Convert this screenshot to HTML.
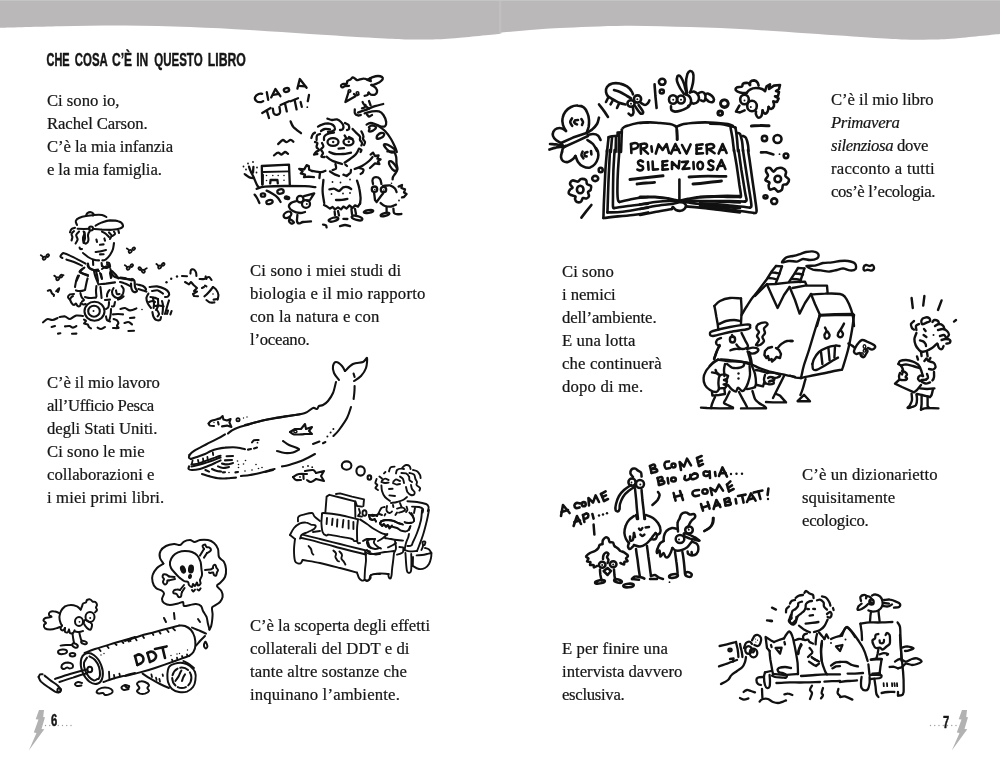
<!DOCTYPE html>
<html lang="it"><head><meta charset="utf-8"><title>Che cosa c’è in questo libro</title>
<style>
html,body{margin:0;padding:0;background:#fff;}
body{width:1000px;height:762px;position:relative;overflow:hidden;font-family:"Liberation Serif",serif;color:#1d1d1b;}
.t{position:absolute;white-space:nowrap;will-change:transform;font-family:"Liberation Serif",serif;font-size:16.7px;line-height:23.1px;color:#161616;-webkit-text-stroke:0.22px #161616;}
.t div{height:23.1px;}
svg{position:absolute;overflow:visible;will-change:transform;}
.ink{fill:none;stroke:#111;stroke-linecap:round;stroke-linejoin:round;}
</style></head><body>
<svg width="1000" height="762" viewBox="0 0 1000 762" style="left:0;top:0">
<path d="M0.0,27.8 C10.0,27.5 39.2,26.6 60.0,26.2 C80.8,25.8 103.3,25.4 125.0,25.5 C146.7,25.6 169.2,26.2 190.0,27.0 C210.8,27.8 230.0,28.8 250.0,30.0 C270.0,31.2 289.2,32.7 310.0,34.0 C330.8,35.3 359.2,37.1 375.0,38.0 C390.8,38.9 395.8,39.2 405.0,39.4 C414.2,39.6 421.7,39.6 430.0,39.4 C438.3,39.2 443.3,39.2 455.0,38.2 C466.7,37.2 492.5,34.5 500.0,33.7 L500,0 L0,0 Z" fill="#bab8b9"/>
<path d="M500.0,32.6 C505.0,32.2 520.0,30.8 530.0,30.0 C540.0,29.2 544.2,28.7 560.0,28.0 C575.8,27.3 603.3,25.9 625.0,25.7 C646.7,25.5 669.2,26.4 690.0,27.0 C710.8,27.6 730.0,28.5 750.0,29.6 C770.0,30.7 789.2,32.2 810.0,33.6 C830.8,35.0 859.2,37.0 875.0,38.0 C890.8,39.0 895.8,39.2 905.0,39.5 C914.2,39.8 921.7,39.7 930.0,39.5 C938.3,39.3 943.3,39.3 955.0,38.4 C966.7,37.5 992.5,34.7 1000.0,34.0 L1000,0 L500,0 Z" fill="#bab8b9"/>
<rect x="499" y="0" width="2.4" height="33.5" fill="#c1bfc0"/>
<rect x="0" y="0" width="1000" height="1" fill="#c6c5c5"/>
<polygon points="39,710 44,710 43.2,717 45,717.2 41.5,729 44.3,729.2 28.8,750.5 36.5,733 33.8,732.5 38.5,719.5 35.7,719.2" fill="#b3b2b2"/>
<polygon points="962.0,710.0 967.0,710.0 966.2,717.0 968.0,717.2 964.5,729.0 967.3,729.2 951.8,750.5 959.5,733.0 956.8,732.5 961.5,719.5 958.7,719.2" fill="#b3b2b2"/>
<g fill="#9c9c9c"><circle cx="45.50" cy="725.5" r="0.7"/><circle cx="49.75" cy="725.5" r="0.7"/><circle cx="54.00" cy="725.5" r="0.7"/><circle cx="58.25" cy="725.5" r="0.7"/><circle cx="62.50" cy="725.5" r="0.7"/><circle cx="66.75" cy="725.5" r="0.7"/><circle cx="71.00" cy="725.5" r="0.7"/><circle cx="930.50" cy="725.5" r="0.7"/><circle cx="934.75" cy="725.5" r="0.7"/><circle cx="939.00" cy="725.5" r="0.7"/><circle cx="943.25" cy="725.5" r="0.7"/><circle cx="947.50" cy="725.5" r="0.7"/><circle cx="951.75" cy="725.5" r="0.7"/><circle cx="956.00" cy="725.5" r="0.7"/></g>
<g font-family="Liberation Sans, sans-serif" font-weight="bold" fill="#161616" stroke="#161616" stroke-linejoin="round">
<text x="46.55" y="66.3" font-size="18.9" stroke-width="0.6" textLength="23.05" lengthAdjust="spacingAndGlyphs">CHE</text><text x="74.80" y="66.3" font-size="18.9" stroke-width="0.45" textLength="32.90" lengthAdjust="spacingAndGlyphs">COSA</text><text x="112.00" y="66.3" font-size="18.9" stroke-width="0.45" textLength="20.10" lengthAdjust="spacingAndGlyphs">C’È</text><text x="136.20" y="66.3" font-size="18.9" stroke-width="0.45" textLength="12.10" lengthAdjust="spacingAndGlyphs">IN</text><text x="154.25" y="66.3" font-size="18.9" stroke-width="0.45" textLength="48.35" lengthAdjust="spacingAndGlyphs">QUESTO</text><text x="207.80" y="66.3" font-size="18.9" stroke-width="0.45" textLength="38.05" lengthAdjust="spacingAndGlyphs">LIBRO</text>
<text transform="translate(51,726.3) scale(0.72,1)" font-size="15.6" stroke-width="0.5">6</text>
<text transform="translate(943,728) scale(0.72,1)" font-size="15.6" stroke-width="0.5">7</text>
</g>
</svg>
<div class="t" style="left:47.0px;top:88.81px"><div style="letter-spacing:-0.027px">Ci sono io,</div><div style="letter-spacing:-0.104px">Rachel Carson.</div><div style="letter-spacing:-0.075px">C’è la mia infanzia</div><div style="letter-spacing:-0.112px">e la mia famiglia.</div></div>
<div class="t" style="left:250.0px;top:258.81px"><div style="letter-spacing:0.146px">Ci sono i miei studi di</div><div style="letter-spacing:0.190px">biologia e il mio rapporto</div><div style="letter-spacing:0.183px">con la natura e con</div><div style="letter-spacing:-0.236px">l’oceano.</div></div>
<div class="t" style="left:47.0px;top:371.41px"><div style="letter-spacing:-0.099px">C’è il mio lavoro</div><div style="letter-spacing:-0.317px">all’Ufficio Pesca</div><div style="letter-spacing:-0.028px">degli Stati Uniti.</div><div style="letter-spacing:0.059px">Ci sono le mie</div><div style="letter-spacing:0.029px">collaborazioni e</div><div style="letter-spacing:0.129px">i miei primi libri.</div></div>
<div class="t" style="left:250.0px;top:614.11px"><div style="letter-spacing:-0.046px">C’è la scoperta degli effetti</div><div style="letter-spacing:0.055px">collaterali del DDT e di</div><div style="letter-spacing:0.113px">tante altre sostanze che</div><div style="letter-spacing:0.169px">inquinano l’ambiente.</div></div>
<div class="t" style="left:831.0px;top:88.01px"><div style="letter-spacing:-0.048px">C’è il mio libro</div><div style="letter-spacing:-0.331px"><i>Primavera</i></div><div style="letter-spacing:-0.365px"><i>silenziosa</i> dove</div><div style="letter-spacing:0.244px">racconto a tutti</div><div style="letter-spacing:-0.369px">cos’è l’ecologia.</div></div>
<div class="t" style="left:562.0px;top:260.11px"><div style="letter-spacing:0.062px">Ci sono</div><div style="letter-spacing:-0.077px">i nemici</div><div style="letter-spacing:-0.102px">dell’ambiente.</div><div style="letter-spacing:0.109px">E una lotta</div><div style="letter-spacing:0.145px">che continuerà</div><div style="letter-spacing:0.185px">dopo di me.</div></div>
<div class="t" style="left:801.6px;top:462.81px"><div style="letter-spacing:0.117px">C’è un dizionarietto</div><div style="letter-spacing:0.126px">squisitamente</div><div style="letter-spacing:-0.265px">ecologico.</div></div>
<div class="t" style="left:561.6px;top:637.21px"><div style="letter-spacing:0.109px">E per finire una</div><div style="letter-spacing:0.021px">intervista davvero</div><div style="letter-spacing:-0.294px">esclusiva.</div></div>
<!-- 10_girl.svg -->
<svg width="200" height="152" viewBox="0 0 1000 760" style="left:225px;top:75px"><g class="ink" stroke="#141414" stroke-width="11.5">
<path d="M186,94C183,94 174,92 168,95C162,98 152,106 150,112C148,118 153,127 158,131C162,135 169,136 175,136C181,136 188,132 191,131"/>
<path d="M209,86 L216,124"/>
<path d="M231,112 L252,70 L277,106"/>
<path d="M241,99 L269,94"/>
<ellipse cx="307.5" cy="75.0" rx="13.5" ry="9.5" transform="rotate(-10 307.5 75.0)"/>
<path d="M362,68 L374,20 L408,64"/>
<path d="M368,54 L401,57"/>
<path d="M186,190 L228,165"/>
<path d="M209,178 L220,215"/>
<path d="M239,168C240,172 241,187 244,192C248,198 255,200 260,199C265,198 273,194 275,188C277,181 273,164 272,159"/>
<path d="M278,150 L320,131"/>
<path d="M300,142 L309,182"/>
<path d="M328,131 L365,116"/>
<path d="M348,125 L358,172"/>
<path d="M378,135 L384,159"/>
<path d="M420,100 L414,131"/>
<circle cx="411.5" cy="161.0" r="4.5" fill="#141414" stroke="none"/>
<path d="M328,232C330,237 334,250 342,260C351,270 374,286 380,291"/>
<path d="M266,345C270,342 282,326 289,325C296,324 301,336 308,336C314,336 322,324 328,324C333,324 340,332 342,334"/>
<path d="M620,54C617,54 606,55 600,56C594,57 589,63 586,62C583,62 580,57 580,54C580,51 583,47 588,45C592,43 603,46 608,44C612,41 609,34 612,30C616,26 623,25 628,22C632,20 634,13 638,12C641,12 646,15 650,18C654,20 656,25 660,26C664,27 668,24 674,22C680,21 688,17 695,18C702,18 711,23 714,24"/>
<path d="M714,24C718,22 726,16 735,12C744,9 757,5 765,5C773,5 781,7 785,10C789,13 790,18 788,22C785,27 777,33 770,38C763,42 751,45 745,48C739,50 735,50 732,50"/>
<path d="M712,25 L726,16 L729,31Z"/>
<path d="M732,50C736,52 749,59 754,65C759,71 761,80 760,85C759,90 755,95 750,98C745,100 735,99 730,98C725,96 720,89 718,88"/>
<path d="M718,88C717,90 716,97 712,100C709,103 700,103 698,104"/>
<path d="M618,85 L602,135 L650,108"/>
<ellipse cx="622.5" cy="80.0" rx="6.5" ry="6.5" stroke-width="8"/>
<ellipse cx="662.5" cy="90.0" rx="6.5" ry="6.5" stroke-width="8"/>
<path d="M645,95C647,96 651,102 655,102C659,103 665,98 668,98"/>
<path d="M688,135C689,138 692,145 698,150C703,155 716,165 720,168"/>
<path d="M720,130 L728,152"/>
<path d="M685,166C687,165 695,165 698,162C700,160 702,151 702,149"/>
<path d="M649,172C649,176 647,188 650,192C653,198 660,201 665,202C670,204 677,200 679,200"/>
<path d="M665,188C671,186 686,181 700,176C714,171 735,161 750,156C765,151 784,147 791,145"/>
<path d="M698,192C704,191 723,184 735,182C747,181 760,180 770,182C780,185 786,191 792,200C798,209 805,226 806,235C807,244 804,252 800,256C796,260 788,259 780,258C772,256 759,248 750,245C741,242 735,240 728,240C720,240 711,246 708,248"/>
<path d="M710,198C712,199 716,207 720,208C724,208 732,201 735,200"/>
<path d="M720,260C722,258 730,252 736,252C742,253 754,257 755,261C756,265 746,274 740,278C734,281 723,284 720,282C717,281 723,271 723,268C723,264 718,262 720,260Z"/>
<path d="M760,250C767,255 788,268 800,280C812,292 822,307 830,320C838,333 845,349 850,360C855,371 858,381 859,385"/>
<path d="M780,290C786,289 795,291 796,295C797,299 791,309 785,312C779,316 764,319 760,318C756,316 759,307 762,302C766,298 774,291 780,290Z"/>
<path d="M795,348C797,345 811,348 820,352C829,357 848,368 850,374C852,380 842,388 835,388C828,387 814,377 808,370C801,363 793,350 795,348Z"/>
<path d="M512,218C516,219 527,224 535,225C543,226 552,221 560,222C568,224 575,230 580,235C585,240 591,249 592,255C594,261 590,269 588,272C585,276 577,275 575,275"/>
<path d="M465,258C468,256 477,250 485,248C493,245 506,242 515,242C524,243 534,245 540,250C546,255 551,265 550,270C549,275 541,280 535,282C529,285 518,285 515,285"/>
<path d="M480,280C483,278 492,271 500,270C508,269 521,272 525,272"/>
<path d="M600,240C603,242 614,245 618,250C621,255 621,266 620,270C619,274 612,274 610,275"/>
<path d="M432,315C433,312 435,302 438,298C440,293 448,289 450,288"/>
<path d="M458,325C458,321 457,308 460,302C463,298 472,296 475,295"/>
<path d="M495,325C495,322 493,310 498,305C502,300 512,295 520,292C528,290 541,288 545,288"/>
<path d="M450,335C452,336 461,336 462,340C464,344 456,354 458,360C459,366 470,371 470,375C470,379 459,381 455,385C451,389 444,396 445,398C446,399 460,395 462,395"/>
<path d="M485,340C486,343 493,352 492,358C492,363 480,367 480,372C480,378 490,384 490,390C490,396 481,404 482,408C484,411 495,410 498,410"/>
<path d="M638,270C640,273 649,281 655,288C661,294 672,301 675,308C678,314 673,320 675,325C677,330 684,335 685,340C686,345 683,350 682,352"/>
<path d="M682,282C684,286 691,299 692,305C694,311 689,315 690,320C691,325 699,330 700,335C701,340 696,348 695,350"/>
<path d="M675,370C676,371 682,372 682,375C683,378 678,383 678,385"/>
<ellipse cx="540.0" cy="335.0" rx="27.5" ry="19.0"/>
<circle cx="541.0" cy="335.0" r="6.0" fill="#141414" stroke="none"/>
<ellipse cx="617.5" cy="334.0" rx="25.0" ry="17.5"/>
<circle cx="619.0" cy="334.0" r="6.0" fill="#141414" stroke="none"/>
<path d="M598,302 L608,318"/>
<path d="M620,310 L638,320"/>
<path d="M568,368 L595,366"/>
<path d="M522,385C527,387 539,393 550,395C561,397 577,396 590,395C603,394 623,389 630,388"/>
<path d="M508,408C512,411 522,421 535,428C548,434 577,442 585,445"/>
<path d="M598,438C602,435 615,427 625,420C635,413 648,404 655,395C662,386 668,372 670,368"/>
<path d="M245,402C248,400 259,388 265,388C271,387 277,398 282,398C288,397 295,386 300,385C305,384 312,393 315,394"/>
<path d="M186,548 L184,455 L320,448 L324,550"/>
<path d="M192,485 L320,482" stroke-width="9"/>
<path d="M189,500 L188,548"/>
<circle cx="207.5" cy="502.5" r="4.0" fill="#141414" stroke="none"/>
<circle cx="239.0" cy="502.5" r="4.0" fill="#141414" stroke="none"/>
<circle cx="266.0" cy="502.5" r="4.0" fill="#141414" stroke="none"/>
<circle cx="295.0" cy="502.5" r="4.0" fill="#141414" stroke="none"/>
<circle cx="207.5" cy="527.5" r="4.0" fill="#141414" stroke="none"/>
<circle cx="295.0" cy="526.0" r="4.0" fill="#141414" stroke="none"/>
<path d="M226,542 L228,525 L262,524 L264,542"/>
<path d="M120,458C121,461 123,470 128,480C132,490 140,503 145,515C150,527 156,542 160,550C164,558 168,559 169,561"/>
<path d="M102,498C106,500 116,510 122,512C129,515 139,515 142,515"/>
<path d="M142,460 L140,488"/>
<circle cx="92.5" cy="457.5" r="4.5" fill="#141414" stroke="none"/>
<circle cx="115.0" cy="442.5" r="4.5" fill="#141414" stroke="none"/>
<circle cx="140.0" cy="435.0" r="4.5" fill="#141414" stroke="none"/>
<circle cx="105.0" cy="472.5" r="4.5" fill="#141414" stroke="none"/>
<circle cx="97.5" cy="495.0" r="4.5" fill="#141414" stroke="none"/>
<circle cx="160.0" cy="462.5" r="4.5" fill="#141414" stroke="none"/>
<circle cx="157.5" cy="487.5" r="4.5" fill="#141414" stroke="none"/>
<path d="M158,569C165,567 176,560 200,558C224,556 267,555 300,555C333,555 375,555 400,556C425,557 444,560 452,561"/>
<path d="M148,598C150,600 156,608 160,615C164,622 170,636 172,640"/>
<ellipse cx="190.0" cy="600.0" rx="11.0" ry="8.5"/>
<ellipse cx="222.5" cy="635.0" rx="16.0" ry="10.0" transform="rotate(-15 222.5 635.0)"/>
<path d="M208,578C213,580 230,589 240,595C250,601 259,608 265,615C271,622 275,632 278,635"/>
<ellipse cx="277.5" cy="582.5" rx="16.0" ry="11.0" transform="rotate(-10 277.5 582.5)"/>
<ellipse cx="310.0" cy="614.0" rx="11.0" ry="6.0" fill="#141414" transform="rotate(10 310.0 614.0)"/>
<path d="M435,480 L421,474 L419,455 L408,451 L396,472 L371,469 L388,482 L379,492 L400,498 L395,511 L418,508 L445,511"/>
<path d="M435,480C442,481 469,486 480,486C491,486 499,480 502,479"/>
<path d="M475,488 L472,515"/>
<ellipse cx="376.0" cy="621.0" rx="16.5" ry="16.5"/>
<ellipse cx="405.0" cy="645.0" rx="20.0" ry="19.0"/>
<circle cx="409.0" cy="645.0" r="5.0" fill="#141414" stroke="none"/>
<path d="M395,606 L446,592 L425,625 L411,629"/>
<path d="M358,630C353,632 336,635 330,640C324,645 318,653 320,660C322,667 331,675 340,680C349,685 365,689 375,690C385,691 396,686 400,685"/>
<ellipse cx="312.5" cy="699.0" rx="21.0" ry="14.0" transform="rotate(-30 312.5 699.0)"/>
<path d="M325,715C324,718 319,725 320,730C321,735 326,741 330,742C334,744 345,740 345,738C345,735 335,727 332,725"/>
<path d="M362,700C362,705 359,723 360,730C361,737 365,742 370,742C375,743 380,737 390,735C400,733 423,733 430,732"/>
<path d="M492,525C492,534 487,561 488,580C488,599 495,630 496,640"/>
<path d="M552,445C553,449 558,462 555,468C552,472 540,474 538,475"/>
<path d="M602,448 L610,455"/>
<path d="M525,482C528,485 538,491 545,495C552,499 566,503 570,505"/>
<path d="M592,498 L608,505 L628,488 L630,475"/>
<path d="M648,470C654,468 673,462 685,455C697,448 711,438 720,430C729,422 735,413 738,410"/>
<path d="M672,465C676,466 690,469 692,472C695,476 690,484 688,488C685,491 679,494 678,495"/>
<path d="M728,398 L740,388 L750,405 L768,402 L762,418 L778,422 L765,432 L772,445 L750,442 L725,465"/>
<path d="M660,528C662,535 670,555 672,570C675,585 677,602 678,615C678,628 675,640 675,645"/>
<circle cx="537.5" cy="535.0" r="4.5" fill="#141414" stroke="none"/>
<circle cx="577.5" cy="537.5" r="4.5" fill="#141414" stroke="none"/>
<circle cx="625.0" cy="522.5" r="4.5" fill="#141414" stroke="none"/>
<circle cx="532.5" cy="595.0" r="4.5" fill="#141414" stroke="none"/>
<circle cx="590.0" cy="592.5" r="4.5" fill="#141414" stroke="none"/>
<circle cx="625.0" cy="590.0" r="4.5" fill="#141414" stroke="none"/>
<path d="M522,572C526,572 537,566 545,568C553,569 562,581 570,580C578,579 583,566 590,562C597,559 606,559 612,560C619,561 628,568 631,570"/>
<path d="M555,625C560,625 575,625 585,624C595,623 608,620 612,619"/>
<path d="M495,650 L510,658 L525,668 L538,660 L550,672 L565,662 L580,672 L592,658 L608,668 L622,652 L638,665 L650,652 L665,658 L676,640"/>
<path d="M548,682 L550,700"/>
<path d="M565,680 L570,702"/>
<path d="M632,670 L635,695"/>
<path d="M650,670 L655,695"/>
<ellipse cx="542.5" cy="722.5" rx="25.0" ry="9.0" transform="rotate(-15 542.5 722.5)"/>
<ellipse cx="660.0" cy="715.0" rx="27.5" ry="10.0" transform="rotate(15 660.0 715.0)"/>
<path d="M592,719 L612,720"/>
<path d="M575,756C579,755 592,750 600,750C608,750 621,755 625,756"/>
<path d="M490,748C492,748 502,750 505,752C508,755 507,761 508,762"/>
<ellipse cx="717.5" cy="682.5" rx="24.0" ry="7.0" transform="rotate(-10 717.5 682.5)"/>
<path d="M740,545C740,541 735,528 738,522C740,517 749,511 755,511C761,511 770,514 775,520C780,526 781,541 782,545"/>
<ellipse cx="747.5" cy="571.0" rx="13.5" ry="13.5"/>
<ellipse cx="792.5" cy="572.5" rx="13.5" ry="13.5"/>
<circle cx="749.0" cy="572.5" r="4.0" fill="#141414" stroke="none"/>
<circle cx="794.0" cy="575.0" r="4.0" fill="#141414" stroke="none"/>
<path d="M745,586 L750,625 L758,635 L780,605 L791,591"/>
<path d="M790,555C796,555 815,550 825,552C835,555 845,562 850,568C855,573 856,582 858,585"/>
<path d="M868,558 L885,550 L882,565 L900,572 L895,588 L908,595 L895,610 L885,612"/>
<circle cx="870.0" cy="627.5" r="4.5" fill="#141414" stroke="none"/>
<path d="M778,640C781,642 791,652 800,655C809,658 821,659 830,658C839,656 851,649 855,648"/>
<path d="M808,660 L808,685"/>
<ellipse cx="800.0" cy="697.5" rx="22.5" ry="7.0" transform="rotate(-15 800.0 697.5)"/>
<path d="M842,668C843,671 842,685 845,690C848,695 854,695 860,696C866,697 879,695 882,695"/>
<path d="M812,382C818,383 838,380 845,385C852,390 854,400 856,410C858,420 856,435 858,445C859,455 864,464 862,472C861,481 854,489 850,495C846,501 842,505 840,510C838,515 838,520 838,522"/>
<path d="M820,435C819,439 821,448 825,455C829,462 839,475 845,478C851,480 859,477 860,472C861,468 855,457 850,450C845,443 838,435 832,432C828,430 821,431 820,435Z"/>
<circle cx="832.5" cy="541.0" r="4.0" fill="#141414" stroke="none"/>
</g></svg>
<!-- 20_boy.svg -->
<svg width="200" height="152" viewBox="0 0 1000 760" style="left:30px;top:200px"><g class="ink" stroke="#141414" stroke-width="10.5">
<path d="M235,125C234,122 227,111 229,105C231,99 236,94 245,90C254,86 268,82 280,80C292,78 307,76 320,75C333,74 350,73 360,75C370,77 379,83 382,85"/>
<path d="M280,78C281,75 283,68 288,65C292,62 300,60 305,61C310,62 316,67 318,70C319,73 315,76 315,78"/>
<path d="M328,128C333,125 348,117 360,112C372,108 386,103 400,102C414,102 434,103 445,108C456,112 464,122 465,128C466,133 459,139 450,142C441,146 425,148 410,149C395,150 375,148 360,148C345,147 327,145 320,145"/>
<path d="M238,144 L270,145 L298,144"/>
<ellipse cx="305.0" cy="142.5" rx="10.0" ry="10.0"/>
<path d="M200,162C201,160 203,149 208,145C212,141 222,140 225,139"/>
<path d="M208,202C208,200 212,190 212,185C212,180 206,175 208,170C209,165 218,158 220,155"/>
<path d="M228,218C229,214 237,205 238,198C238,190 230,182 231,175C232,168 243,160 245,158"/>
<path d="M268,215C267,211 264,198 265,190C266,182 272,173 272,168C273,162 268,159 268,158"/>
<path d="M272,160C273,165 275,182 275,190C275,198 269,205 270,210C271,215 276,219 280,218C284,216 291,210 292,202C294,195 289,182 290,175C291,168 296,160 298,158"/>
<path d="M360,158C363,160 374,165 380,170C386,175 392,182 395,185"/>
<path d="M395,162C397,165 407,172 408,178C408,183 401,192 400,195"/>
<path d="M420,158C421,160 426,166 425,170C424,174 415,178 412,180"/>
<path d="M442,152 L445,165"/>
<path d="M332,198 L335,210"/>
<path d="M372,192 L375,204"/>
<path d="M350,224 L368,222"/>
<path d="M328,260C332,259 346,258 355,256C364,254 376,251 380,250"/>
<path d="M350,272 L368,271"/>
<path d="M248,238C248,239 250,244 252,245C255,246 259,245 260,245"/>
<path d="M265,265C269,268 281,279 290,285C299,291 311,296 320,299C329,302 341,302 345,302"/>
<path d="M420,215C419,220 418,235 415,245C412,255 406,266 400,275C394,284 384,293 378,298C371,302 365,302 362,302"/>
<path d="M315,302 L316,325"/>
<path d="M358,315 L360,330"/>
<path d="M290,318C291,321 292,335 298,340C302,345 312,348 320,350C328,352 341,354 345,355"/>
<path d="M360,345C363,343 373,334 380,332C387,331 398,338 400,335C402,332 398,319 395,315C392,311 387,313 385,312"/>
<path d="M162,290C161,289 153,286 152,282C152,279 157,273 160,270C163,267 163,265 170,266C177,267 188,272 200,278C212,283 227,291 240,298C253,304 271,314 278,318"/>
<path d="M182,298C189,300 207,305 220,310C233,315 253,325 260,328"/>
<path d="M272,338C269,340 253,350 252,355C252,360 261,367 268,370C274,373 286,374 290,375"/>
<path d="M245,378 L232,405"/>
<path d="M330,355C331,358 333,367 335,375C337,383 339,400 340,405"/>
<path d="M355,370 L360,395"/>
<path d="M402,345C404,349 406,363 410,370C414,377 417,381 425,385C433,389 445,390 460,392C475,395 506,397 515,398"/>
<path d="M400,365 L405,390"/>
<ellipse cx="501.0" cy="257.0" rx="8.5" ry="6.5" stroke-width="9" transform="rotate(-40 501.0 257.0)"/>
<ellipse cx="518.5" cy="244.0" rx="7.5" ry="5.5" stroke-width="9" transform="rotate(-40 518.5 244.0)"/>
<path d="M484,242C485,243 489,245 491,247C493,249 494,251 495,252" stroke-width="9"/>
<ellipse cx="491.0" cy="341.0" rx="8.5" ry="6.5" stroke-width="9" transform="rotate(-40 491.0 341.0)"/>
<ellipse cx="508.5" cy="328.0" rx="7.5" ry="5.5" stroke-width="9" transform="rotate(-40 508.5 328.0)"/>
<path d="M474,326C475,327 479,329 481,331C483,333 484,335 485,336" stroke-width="9"/>
<ellipse cx="566.5" cy="356.0" rx="8.5" ry="6.5" stroke-width="9" transform="rotate(40 566.5 356.0)"/>
<ellipse cx="549.0" cy="343.0" rx="7.5" ry="5.5" stroke-width="9" transform="rotate(40 549.0 343.0)"/>
<path d="M584,341C582,342 578,344 576,346C575,348 573,350 572,351" stroke-width="9"/>
<ellipse cx="71.0" cy="291.0" rx="8.5" ry="6.5" stroke-width="9" transform="rotate(-40 71.0 291.0)"/>
<ellipse cx="88.5" cy="278.0" rx="7.5" ry="5.5" stroke-width="9" transform="rotate(-40 88.5 278.0)"/>
<path d="M54,276C55,277 59,279 61,281C63,283 64,285 65,286" stroke-width="9"/>
<ellipse cx="138.5" cy="393.5" rx="8.5" ry="6.5" stroke-width="9" transform="rotate(-40 138.5 393.5)"/>
<ellipse cx="156.0" cy="380.5" rx="7.5" ry="5.5" stroke-width="9" transform="rotate(-40 156.0 380.5)"/>
<path d="M121,378C123,379 127,382 128,383C130,385 132,388 132,388" stroke-width="9"/>
<circle cx="167.5" cy="376.0" r="4.5" fill="#141414" stroke="none"/>
<path d="M89,454C91,454 99,449 102,451C106,453 106,462 109,466C112,470 118,474 120,475"/>
<path d="M131,456C134,453 144,440 146,441C148,442 141,457 140,460"/>
<circle cx="119.0" cy="481.0" r="4.5" fill="#141414" stroke="none"/>
<path d="M260,348C258,350 245,356 248,360C250,364 265,367 272,370C280,373 287,378 290,380"/>
<path d="M240,378C238,382 232,398 230,408C228,417 226,430 225,435"/>
<path d="M288,392C286,398 282,415 280,425C278,435 276,446 275,450"/>
<path d="M230,452C233,453 243,455 250,455C257,455 269,452 272,451"/>
<path d="M220,470C217,470 205,470 200,472C195,475 190,481 190,485C190,489 198,497 200,498C202,498 202,490 205,488C208,485 213,481 215,480"/>
<path d="M200,498C201,500 204,510 208,515C211,520 216,525 220,525C224,525 227,517 230,518C233,518 234,528 238,530C241,532 247,532 250,530C253,528 252,516 255,515C258,514 261,522 265,522C269,523 275,520 278,520"/>
<path d="M252,465C253,468 255,479 258,485C260,491 270,496 270,500C270,504 262,506 260,508"/>
<path d="M288,325C289,328 290,336 295,340C300,344 308,349 315,350C322,351 336,348 340,348"/>
<path d="M320,355C321,360 324,375 328,385C331,395 338,410 340,415"/>
<path d="M342,422C349,422 366,419 380,418C394,416 418,413 425,412"/>
<path d="M350,365 L358,390"/>
<path d="M402,358 L408,385"/>
<path d="M362,330C365,332 375,340 380,340C385,340 394,336 395,332C396,329 387,322 385,320"/>
<path d="M410,355C413,358 425,369 430,375C435,381 440,390 442,392"/>
<path d="M332,430C332,434 330,446 330,455C330,464 332,478 332,482"/>
<path d="M352,435C353,439 354,451 355,460C356,469 357,485 358,490"/>
<path d="M275,485C279,486 291,490 300,490C309,490 325,488 330,488"/>
<path d="M418,440C416,443 410,453 410,460C410,467 413,475 418,480C422,485 429,489 435,490C441,491 448,489 452,485C458,481 462,474 465,468C468,461 469,451 468,445C466,439 459,432 458,430"/>
<path d="M430,452C431,455 432,467 435,470C438,473 445,470 448,470"/>
<path d="M398,450C396,452 390,460 388,465C385,470 385,480 385,482"/>
<path d="M375,500 L400,498"/>
<path d="M440,498C442,497 450,495 455,492C460,490 465,484 468,482"/>
<ellipse cx="322.5" cy="556.0" rx="50.0" ry="47.5"/>
<ellipse cx="320.0" cy="556.0" rx="29.0" ry="27.5"/>
<circle cx="317.5" cy="555.0" r="5.0" fill="#141414" stroke="none"/>
<path d="M395,510C395,514 395,529 392,535C390,541 382,543 380,545"/>
<path d="M425,510C424,513 422,526 420,530C418,534 412,532 410,532"/>
<path d="M405,545C405,551 404,570 402,580C401,590 396,601 395,605"/>
<path d="M380,582C381,585 382,596 385,600C388,604 398,606 400,608"/>
<path d="M65,612C69,610 80,597 88,595C95,593 104,601 112,600C121,599 133,592 138,590"/>
<path d="M148,585C152,585 166,581 175,582C184,584 191,596 200,595C209,594 219,580 230,578C241,575 259,580 265,580"/>
<path d="M108,635 L125,630"/>
<path d="M175,632C179,632 191,629 198,630C204,631 209,638 215,638C221,638 230,631 232,630"/>
<path d="M140,668 L152,666"/>
<path d="M210,669 L232,668"/>
<path d="M270,598C272,599 280,602 280,605C280,608 269,615 270,618C271,620 283,620 288,622C292,625 292,632 295,635C298,638 303,641 305,642"/>
<path d="M338,638C340,639 349,645 355,645C361,645 372,637 375,635"/>
<path d="M452,388C457,388 470,390 480,392C490,395 505,401 510,402"/>
<path d="M450,410C454,411 467,414 475,418C483,421 496,428 500,430"/>
<path d="M510,395C512,397 520,398 522,405C525,412 523,427 525,435C527,443 536,451 535,455C534,459 525,462 520,460C515,458 510,452 508,445C505,438 505,422 505,418" stroke-width="11"/>
<path d="M535,422C540,424 558,426 565,430C572,434 578,441 580,445C582,449 576,453 575,455"/>
<path d="M542,445C546,446 558,450 565,452C572,455 580,457 582,458"/>
<path d="M452,545C456,544 467,539 475,540C483,541 490,552 500,552C510,553 527,544 532,542"/>
<circle cx="560.0" cy="547.5" r="4.0" fill="#141414" stroke="none"/>
<path d="M415,572C419,572 432,570 440,570C448,570 461,572 465,572"/>
<path d="M500,590 L522,588"/>
<path d="M472,615C476,614 486,609 492,610C499,611 507,620 510,622"/>
<path d="M492,655 L520,654"/>
<path d="M418,595C420,596 431,599 435,602C439,606 442,610 442,615C442,620 435,626 435,630C435,634 446,638 442,640C439,642 420,640 415,640"/>
<ellipse cx="648.5" cy="335.0" rx="8.5" ry="6.5" stroke-width="9" transform="rotate(-40 648.5 335.0)"/>
<ellipse cx="666.0" cy="322.0" rx="7.5" ry="5.5" stroke-width="9" transform="rotate(-40 666.0 322.0)"/>
<path d="M632,320C633,321 637,323 638,325C640,327 642,329 642,330" stroke-width="9"/>
<circle cx="682.5" cy="411.0" r="6.0" fill="#141414" stroke="none"/>
<circle cx="706.0" cy="394.0" r="6.0" fill="#141414" stroke="none"/>
<circle cx="735.0" cy="382.5" r="6.0" fill="#141414" stroke="none"/>
<path d="M760,380 L785,381"/>
<path d="M802,368C803,365 802,353 805,350C808,347 816,345 820,348C824,350 828,357 830,362C832,368 832,377 832,380"/>
<path d="M775,410 L795,422 L805,410 L818,425 L835,440 L820,455 L835,458 L815,470 L820,480 L840,481"/>
<path d="M848,395C851,395 862,397 870,395C878,393 889,384 895,385C901,386 905,398 908,400"/>
<path d="M878,382 L882,395"/>
<path d="M860,440 L870,435"/>
<path d="M875,428 L882,432"/>
<path d="M872,482C876,479 888,468 895,460C902,452 912,439 915,435"/>
<path d="M915,435C918,438 928,443 932,450C937,457 942,467 942,475C943,483 938,494 938,498"/>
<path d="M882,500C885,502 893,510 900,512C907,515 919,512 922,512"/>
<circle cx="915.0" cy="470.0" r="4.0" fill="#141414" stroke="none"/>
<path d="M918,498 L938,495"/>
<path d="M598,435C604,435 622,431 635,432C648,434 665,440 675,445C685,450 692,459 695,465C698,471 693,479 690,482C687,486 678,485 675,485"/>
<path d="M610,455C615,455 631,450 640,452C649,455 661,465 665,468"/>
<path d="M592,468C591,471 583,482 582,490C582,498 584,507 588,515C591,523 602,536 605,540"/>
<path d="M602,485C605,485 614,486 620,488C626,489 637,494 640,495"/>
<path d="M595,510C598,509 608,505 612,505C618,505 623,509 625,510"/>
<path d="M615,490C616,495 620,512 620,520C620,528 618,537 618,540"/>
<path d="M640,495C640,501 642,521 640,530C638,539 632,547 630,550"/>
<path d="M625,530C629,530 640,527 648,528C655,528 664,532 668,532"/>
<path d="M660,505C661,509 665,519 665,530C665,541 663,563 662,570"/>
<path d="M695,502C693,508 688,524 685,535C682,546 677,564 675,570"/>
<path d="M612,560C613,564 614,578 618,585C621,592 627,598 632,600C638,602 646,602 650,600C654,598 654,588 655,585"/>
<path d="M635,550C637,553 645,565 645,570C645,575 639,580 638,582"/>
<path d="M690,552 L685,570"/>
<path d="M708,555 L702,572"/>
</g></svg>
<!-- 30_whale.svg -->
<svg width="200" height="152" viewBox="0 0 1000 760" style="left:185px;top:350px"><g class="ink" stroke="#141414" stroke-width="10.5">
<path d="M770,150C766,144 750,127 745,115C740,103 738,89 740,80C742,71 748,60 755,60C762,60 778,72 785,80C792,88 798,101 800,105"/>
<path d="M800,105C807,99 825,78 840,70C855,62 878,65 890,60C902,55 908,35 910,40C912,45 910,75 905,90C900,105 890,119 880,130C870,141 851,151 845,155"/>
<path d="M755,160C752,169 747,199 740,215C733,231 723,245 715,255C707,265 698,271 690,275C682,279 675,277 670,280C665,283 665,293 660,295C655,297 650,287 640,290C630,293 620,308 600,315C580,322 553,324 520,330C487,336 437,342 400,350C363,358 317,371 300,375"/>
<path d="M843,118 L848,135"/>
<path d="M848,180C848,185 848,199 847,210C846,221 844,239 843,245"/>
<path d="M830,285C827,294 820,321 810,340C800,359 781,385 770,400C759,415 747,425 742,430"/>
<path d="M640,470 L672,458"/>
<path d="M690,466 L702,460"/>
<circle cx="712.0" cy="432.0" r="5.0" fill="#141414" stroke="none"/>
<circle cx="728.0" cy="412.0" r="5.0" fill="#141414" stroke="none"/>
<circle cx="742.0" cy="395.0" r="5.0" fill="#141414" stroke="none"/>
<path d="M650,520C638,526 602,546 580,555C558,564 536,570 520,575C504,580 491,581 485,582"/>
<path d="M440,600 L400,610"/>
<path d="M490,455C495,458 508,469 520,475C532,481 552,486 560,490C568,494 568,495 570,496"/>
<path d="M460,505C467,507 487,514 500,515C513,516 528,515 540,512C552,509 565,500 570,498"/>
<path d="M525,410 L550,395 L580,395 L600,370 L605,395 L635,385 L620,405 L635,420 L600,420"/>
<path d="M525,410C528,412 536,420 545,422C554,424 571,422 580,422C589,422 597,420 600,420"/>
<ellipse cx="552.0" cy="408.0" rx="8.0" ry="6.0" stroke-width="7"/>
<path d="M540,635C545,632 558,622 570,620C582,618 603,620 610,620"/>
<path d="M600,605C607,604 631,598 640,600C649,602 652,612 655,615"/>
<path d="M655,615 L695,605 L680,630 L695,655 L655,645"/>
<path d="M610,650C613,652 622,661 630,660C638,659 651,648 655,645"/>
<path d="M540,635C542,638 548,648 555,650C562,652 576,650 580,650"/>
<circle cx="575.0" cy="635.0" r="4.5" fill="#141414" stroke="none"/>
<path d="M592,626 L593,645"/>
<circle cx="590.0" cy="585.0" r="4.5" fill="#141414" stroke="none"/>
<circle cx="615.0" cy="580.0" r="4.5" fill="#141414" stroke="none"/>
<circle cx="636.0" cy="586.0" r="4.5" fill="#141414" stroke="none"/>
<ellipse cx="808.0" cy="578.0" rx="24.0" ry="21.0"/>
<ellipse cx="878.0" cy="605.0" rx="21.0" ry="23.0"/>
<ellipse cx="922.0" cy="638.0" rx="9.0" ry="11.0"/>
<path d="M22,525C25,522 31,514 40,508C49,501 61,495 75,488C89,480 110,470 125,462C140,455 152,449 165,442C178,436 194,426 200,422"/>
<path d="M215,418C218,415 228,407 235,402C242,398 249,394 260,390C271,386 285,382 300,378C315,373 333,367 350,362C367,358 383,354 400,350C417,346 433,343 450,340C467,337 479,336 500,332C521,329 562,323 575,321"/>
<path d="M30,545C28,544 21,541 20,538C19,534 22,527 22,525"/>
<path d="M30,545C35,543 48,539 60,535C72,531 88,525 100,520C112,515 120,509 130,505C140,501 148,498 160,495C172,492 187,489 200,488C213,486 228,486 240,486C252,486 265,488 275,490C285,492 296,495 300,496"/>
<path d="M315,498 L330,495"/>
<path d="M345,492 L360,488"/>
<path d="M335,462C337,461 340,453 345,451C350,449 364,450 368,450"/>
<circle cx="362.5" cy="463.5" r="4.5" fill="#141414" stroke="none"/>
<path d="M32,572C38,572 52,571 65,568C78,564 96,558 110,552C124,548 139,541 150,538C161,534 173,530 178,529" stroke-width="10"/>
<path d="M38,552 L34,570" stroke-width="9"/>
<path d="M65,550 L68,564" stroke-width="9"/>
<path d="M90,542 L92,558" stroke-width="9"/>
<path d="M112,535 L114,550" stroke-width="9"/>
<path d="M139,512 L141,525" stroke-width="9"/>
<path d="M32,582C38,581 52,578 65,575C78,572 96,567 110,562C124,558 139,552 150,548C161,543 173,539 178,538" stroke-width="10"/>
<path d="M20,582C20,585 15,592 18,595C20,598 25,600 35,600C45,600 62,598 75,595C88,592 102,585 115,580C128,575 140,570 150,565C160,560 173,555 178,552"/>
<path d="M208,531 L240,530"/>
<path d="M200,552 L235,550"/>
<path d="M185,568C189,568 201,573 210,572C219,572 235,566 240,565"/>
<path d="M165,582C169,584 181,590 190,590C199,590 215,586 220,585"/>
<path d="M135,595C139,597 152,603 160,605C168,607 177,607 180,608"/>
<path d="M102,600 L120,608"/>
<path d="M190,612 L200,611"/>
<circle cx="220.0" cy="612.5" r="4.0" fill="#141414" stroke="none"/>
<path d="M252,612 L265,610"/>
<circle cx="262.5" cy="555.0" r="4.0" fill="#141414" stroke="none"/>
<circle cx="302.5" cy="552.5" r="4.0" fill="#141414" stroke="none"/>
<circle cx="267.5" cy="572.5" r="4.0" fill="#141414" stroke="none"/>
<circle cx="292.5" cy="570.0" r="4.0" fill="#141414" stroke="none"/>
<circle cx="355.0" cy="572.5" r="4.0" fill="#141414" stroke="none"/>
<circle cx="267.5" cy="587.5" r="4.0" fill="#141414" stroke="none"/>
<circle cx="300.0" cy="605.0" r="4.0" fill="#141414" stroke="none"/>
<circle cx="335.0" cy="600.0" r="4.0" fill="#141414" stroke="none"/>
<circle cx="367.5" cy="592.5" r="4.0" fill="#141414" stroke="none"/>
<circle cx="385.0" cy="587.5" r="4.0" fill="#141414" stroke="none"/>
<path d="M85,620C92,622 110,629 125,632C140,636 160,641 175,642C190,644 202,642 215,641C228,640 248,638 255,638"/>
<path d="M280,630C288,629 309,628 325,625C341,622 359,619 375,615C391,611 408,606 420,602C432,599 443,596 448,595"/>
<path d="M118,368C120,365 124,358 130,355C136,352 148,350 155,348C162,345 172,343 175,342"/>
<path d="M175,342 L188,330 L192,348 L210,352 L228,345 L222,362 L232,385 L210,378 L185,382"/>
<path d="M118,368C119,369 120,375 125,378C130,380 142,380 145,380"/>
<path d="M165,360 L168,372"/>
<circle cx="145.0" cy="362.5" r="3.5" fill="#141414" stroke="none"/>
<ellipse cx="265.0" cy="348.5" rx="8.0" ry="8.0" stroke-width="9"/>
<circle cx="292.5" cy="340.0" r="3.5" fill="#141414" stroke="none"/>
<circle cx="310.0" cy="335.0" r="3.5" fill="#141414" stroke="none"/>
</g></svg>
<!-- 40_typist.svg -->
<svg width="200" height="152" viewBox="0 0 1000 760" style="left:265px;top:445px"><g class="ink" stroke="#141414" stroke-width="9.5">
<path d="M558,170C557,173 552,185 552,190C553,195 562,196 562,200C562,204 552,211 552,215C553,219 563,223 565,225"/>
<path d="M572,158 L585,168"/>
<path d="M595,142 L602,135"/>
<path d="M620,132C621,129 623,117 628,112C632,108 644,108 648,108"/>
<path d="M655,142C656,140 656,129 660,125C664,121 674,118 680,118C686,117 692,120 695,120"/>
<path d="M688,112C690,110 699,101 705,100C711,99 719,102 722,105C726,108 727,118 728,120"/>
<path d="M682,140C686,140 699,140 705,142C711,145 717,152 720,158C723,163 720,170 722,175C725,180 733,183 735,185"/>
<path d="M722,140C726,141 740,142 745,148C750,152 750,164 752,170C755,176 759,180 760,185C761,190 755,195 758,200C760,205 772,210 775,215C778,220 773,225 772,228"/>
<path d="M740,125C744,126 757,128 762,132C768,137 772,145 775,150C778,155 777,162 778,165"/>
<path d="M675,158C678,160 687,165 690,170C693,175 694,187 695,190"/>
<path d="M705,210C706,214 708,228 712,235C717,242 725,248 730,250C735,252 742,250 745,248C748,245 749,240 748,235C746,230 738,226 735,220C732,214 731,203 730,200"/>
<path d="M582,202C583,207 582,220 585,230C588,240 593,252 600,260C607,268 621,277 625,280"/>
<path d="M630,290C635,289 650,288 660,285C670,282 682,279 690,275C698,271 707,262 710,260"/>
<path d="M585,178C588,176 595,168 600,168C605,167 615,174 618,175"/>
<path d="M582,185C585,186 594,190 600,190C606,190 615,188 618,188"/>
<path d="M642,182C645,181 650,173 655,172C660,172 672,179 675,180"/>
<path d="M640,190C643,191 652,197 658,198C663,198 672,195 675,195"/>
<path d="M620,220 L638,219"/>
<path d="M622,252 L650,255"/>
<path d="M640,300 L642,310"/>
<path d="M675,290 L682,308"/>
<path d="M572,332C574,330 578,319 582,315C587,311 595,311 598,310"/>
<path d="M610,305C610,309 605,322 608,328C610,333 618,339 622,340C627,341 633,334 635,332"/>
<path d="M660,318C664,317 678,312 685,312C692,313 699,319 700,322C701,326 695,330 690,332C685,335 673,337 670,338"/>
<path d="M652,350 L660,338"/>
<path d="M708,308C708,310 713,320 712,325C712,330 706,333 705,335"/>
<path d="M572,345 L585,350"/>
<path d="M598,352 L602,345"/>
<path d="M722,338C725,341 736,353 740,360C744,367 747,375 745,380C743,385 738,389 730,390C722,391 705,388 700,388"/>
<path d="M725,408 L720,425"/>
<path d="M712,281C720,282 745,283 760,285C775,287 795,291 805,295C815,299 816,304 818,310C819,316 815,327 814,330"/>
<path d="M735,308C741,308 761,308 770,310C779,312 787,315 790,320C793,325 788,335 788,338"/>
<path d="M750,315 L745,340"/>
<path d="M582,380C585,379 591,375 600,375C609,375 624,375 635,378C646,380 657,387 665,390C673,393 682,394 685,395"/>
<path d="M582,380 L575,395 L588,405 L595,395 L605,408 L615,400 L625,412 L635,402"/>
<path d="M520,352C523,352 533,347 540,348C547,348 557,354 560,355"/>
<path d="M520,352 L525,370 L538,375 L548,370 L555,382"/>
<path d="M560,355 L570,338"/>
<path d="M302,335 L308,258 L322,249 L385,265 L450,282 L452,360"/>
<path d="M355,245 L375,242 L435,258 L495,272 L492,305"/>
<path d="M452,282 L460,305 L485,308"/>
<ellipse cx="497.5" cy="340.0" rx="10.0" ry="14.0"/>
<path d="M470,320C471,323 475,335 475,340C475,345 469,348 468,350"/>
<path d="M465,355 L485,358"/>
<path d="M285,345C287,344 280,339 295,340C310,341 347,345 375,350C403,355 450,369 465,372"/>
<path d="M285,345C285,352 282,375 282,390C283,405 284,425 288,435C291,445 300,450 305,452C310,455 313,448 315,448"/>
<path d="M315,448C325,449 355,454 375,458C395,461 423,466 435,470C447,474 441,478 445,480C449,482 458,480 460,480"/>
<path d="M465,372C464,381 460,406 460,425C460,444 460,474 462,485C465,496 473,489 475,490"/>
<path d="M310,365 L308,395"/>
<path d="M338,368 L335,400"/>
<path d="M362,372 L360,408"/>
<path d="M392,375 L388,412"/>
<path d="M418,378 L418,418"/>
<path d="M442,385 L442,420"/>
<path d="M165,382C165,378 162,363 168,358C172,352 184,350 195,348C206,345 226,338 235,340C244,342 241,351 248,358C254,364 270,376 275,380"/>
<path d="M125,450C128,444 137,425 145,415C153,405 165,397 175,392C185,388 196,387 205,388C214,388 222,395 230,398C238,400 250,399 252,402C255,406 251,415 245,420C239,425 225,430 215,435C205,440 192,442 185,448C178,453 177,464 175,468"/>
<path d="M240,435 L275,430"/>
<path d="M188,448C202,451 244,462 275,470C306,478 342,487 375,495C408,503 450,514 475,520C500,526 517,530 525,532"/>
<path d="M182,465C198,469 243,479 275,488C307,496 342,506 375,515C408,524 453,535 475,540C497,545 500,546 505,548"/>
<path d="M125,450 L150,470"/>
<path d="M475,372C481,376 498,387 510,395C522,403 533,413 545,420C557,427 569,434 580,439C591,444 605,447 610,449"/>
<path d="M490,480C493,478 502,472 510,470C518,468 535,470 540,470"/>
<path d="M520,350C523,351 533,355 540,355C547,355 559,349 562,348"/>
<path d="M520,350 L525,370 L538,375 L548,370 L555,382"/>
<path d="M150,470C149,479 145,507 145,525C145,543 147,569 150,580C153,591 160,591 165,592C170,594 176,593 180,590C184,587 186,578 188,575"/>
<path d="M188,575C202,578 244,583 275,590C306,597 344,607 375,615C406,623 446,634 460,638"/>
<path d="M460,638C462,642 466,658 470,665C474,672 480,676 485,678C490,679 495,675 498,675"/>
<path d="M502,535C503,542 505,560 505,575C505,590 501,608 500,625C499,642 498,667 498,675"/>
<path d="M498,675C500,675 510,679 515,678C520,676 525,670 528,665C530,660 525,653 530,650C535,647 548,646 555,645C562,644 572,645 575,645"/>
<path d="M218,505C220,508 227,514 230,520C233,526 233,535 235,540C237,545 241,546 242,548"/>
<path d="M342,528C345,530 353,537 355,542C357,548 351,554 352,560C354,566 360,574 362,578C365,581 369,582 370,582"/>
<path d="M372,532C375,535 383,542 385,548C387,553 381,561 382,568C384,574 392,580 395,585C398,590 401,595 402,598"/>
<path d="M515,485C517,489 519,504 525,510C531,516 542,519 550,520C558,521 571,516 575,515"/>
<path d="M510,525C512,528 518,536 525,540C532,544 547,547 555,548C563,548 572,545 575,545"/>
<path d="M820,325C818,333 815,354 810,375C805,396 797,428 790,450C783,472 775,492 770,505C765,518 762,526 760,530"/>
<path d="M785,325C784,333 784,356 780,375C776,394 767,422 760,440C753,458 745,475 740,485C735,495 737,499 732,502C728,506 716,505 712,505"/>
<path d="M698,525C702,526 715,532 725,532C735,533 754,530 760,530"/>
<path d="M702,540C703,548 704,570 705,585C706,600 708,621 710,630C712,639 717,640 720,640C723,640 728,639 730,630C732,621 732,599 732,585C733,571 731,552 731,545"/>
<path d="M740,605C745,608 760,618 770,620C780,622 792,619 800,615C808,611 815,603 820,595C825,587 828,574 830,565C832,556 832,544 832,540"/>
<path d="M758,552C762,552 776,551 785,550C794,549 802,547 810,545C818,543 827,541 830,540"/>
<path d="M800,515C803,516 815,518 820,522C825,527 830,537 832,540"/>
<path d="M782,525C784,522 789,512 790,505C791,498 785,488 788,485C790,482 801,482 802,485C804,488 798,498 798,500"/>
<path d="M740,560 L739,605"/>
<path d="M650,480C651,486 655,506 655,515C655,524 649,532 648,535"/>
<path d="M645,540C644,548 642,571 640,585C638,599 636,613 635,625C634,637 634,648 632,655C631,662 628,667 625,668C622,668 619,661 618,658C616,654 618,647 618,645"/>
<path d="M618,645C610,645 590,642 575,642C560,643 539,645 530,650C521,655 526,665 522,670C519,675 514,679 510,680C506,681 502,676 500,675"/>
<path d="M500,535C504,537 515,544 525,545C535,546 548,544 560,542C572,541 586,537 600,535C614,533 638,531 645,530"/>
<path d="M550,470C546,470 532,471 525,472C518,474 512,475 510,480C508,485 512,499 515,505C518,511 528,513 530,515"/>
<path d="M550,470C549,473 542,483 545,490C548,497 559,505 565,510C571,515 578,516 580,518"/>
<path d="M612,445C609,448 598,459 590,465C582,471 569,478 565,480"/>
<path d="M615,512C619,510 633,504 640,500C647,496 652,492 655,490"/>
<path d="M600,465C605,466 620,468 630,470C640,472 650,474 660,475C670,476 685,477 690,478"/>
<path d="M660,548C663,547 675,545 680,542C685,540 688,540 690,535C692,530 692,518 692,515"/>
<path d="M672,510 L690,512"/>
<path d="M575,390C577,388 578,382 585,380C592,378 605,375 615,375C625,375 636,377 645,380C654,383 662,390 670,392C678,395 687,397 690,398"/>
<path d="M575,390 L585,405 L592,395 L605,410 L612,400 L622,418 L632,408"/>
<path d="M635,408C639,409 652,412 660,415C668,418 672,425 680,428C688,430 698,433 705,432C712,432 716,427 720,422C724,418 726,408 728,405"/>
<path d="M698,385C700,386 709,390 715,390C721,390 730,388 732,388"/>
<path d="M732,340C734,343 740,353 742,360C745,367 745,377 745,380"/>
<path d="M720,445C719,448 718,458 715,465C712,472 708,480 705,490C702,500 699,519 698,525"/>
</g></svg>
<!-- 50_ddt.svg -->
<svg width="200" height="160" viewBox="0 0 1000 800" style="left:35px;top:540px"><g class="ink" stroke="#141414" stroke-width="10">
<path d="M642,118C640,113 628,100 625,90C622,80 622,65 628,55C632,45 644,36 655,30C666,24 683,21 695,20C707,19 717,27 725,25C733,23 737,12 745,8C753,3 766,-0 775,0C784,0 789,10 798,10C806,10 814,2 825,0C836,-2 853,-2 865,0C877,2 887,8 895,15C903,22 911,33 915,45C919,57 915,74 920,85C925,96 939,100 945,110C951,120 954,132 955,145C956,158 955,173 950,185C945,197 932,208 925,215C918,222 909,223 910,230C911,237 928,246 932,255C937,264 939,276 938,285C936,294 932,302 925,310C918,318 902,325 895,330C888,335 886,333 885,340C884,347 887,360 888,370C888,380 887,390 886,400C885,410 883,422 881,430C879,438 874,445 872,448"/>
<path d="M642,118C637,121 619,130 610,140C601,150 591,163 588,175C584,187 585,199 588,210C590,221 598,233 605,240C612,247 626,248 632,252C639,257 645,260 645,268C645,275 635,287 635,295C635,303 638,310 645,315C652,320 663,325 675,325C687,325 704,320 715,318C726,315 735,308 740,310C745,312 739,328 745,330C751,332 765,327 775,325C785,323 796,319 805,320C814,321 824,324 830,330C836,336 835,346 840,355C845,364 853,374 858,385C862,396 862,410 865,420C868,430 871,443 872,448"/>
<path d="M722,188C715,181 707,173 700,165C693,157 684,149 680,140C676,131 673,120 675,110C677,100 683,88 690,80C697,72 705,67 715,62C725,58 738,55 750,55C762,55 775,56 785,60C795,64 805,69 812,78C820,86 824,99 828,110C831,121 831,134 832,145C834,156 836,166 835,175C834,184 826,193 825,200C824,207 829,213 828,218C826,222 818,228 815,228C812,227 812,212 810,212C808,213 803,229 800,230C797,231 792,219 790,220C788,221 788,234 785,235C782,236 773,229 770,225C767,221 769,213 765,210C761,207 752,209 745,205C738,201 730,194 722,188Z"/>
<ellipse cx="740.0" cy="147.5" rx="9.0" ry="16.5" fill="#141414" transform="rotate(-20 740.0 147.5)"/>
<ellipse cx="780.0" cy="145.0" rx="10.0" ry="18.0" fill="#141414" transform="rotate(5 780.0 145.0)"/>
<ellipse cx="775.0" cy="182.5" rx="5.0" ry="8.0" fill="#141414" transform="rotate(15 775.0 182.5)"/>
<path d="M785,250C786,251 790,258 792,258C795,257 799,249 800,248"/>
<path d="M812,248C814,248 818,253 820,252C822,252 826,244 828,242"/>
<path d="M825,78 L845,45"/>
<path d="M845,88 L860,65"/>
<path d="M845,45C844,42 837,34 838,30C838,26 847,22 850,22C853,23 854,32 858,35C861,38 869,35 872,38C876,40 880,46 880,50C880,54 873,58 870,60C867,62 862,64 860,65"/>
<path d="M850,150C854,150 868,149 875,148C882,146 888,141 890,140"/>
<path d="M890,140C890,138 890,130 892,128C895,125 900,123 902,125C905,127 905,136 908,140C910,144 915,146 915,150C915,154 912,158 910,162C908,167 908,175 905,178C902,180 898,178 895,175C892,172 893,164 890,162C887,161 878,165 875,165C872,165 871,163 870,162"/>
<path d="M698,185 L670,182"/>
<path d="M700,195 L670,202"/>
<path d="M670,182C668,181 660,174 655,172C650,171 645,170 642,172C640,175 637,181 638,185C638,189 645,191 645,195C645,199 639,205 640,210C641,215 647,222 650,222C653,223 658,218 660,215C662,212 661,205 662,202C664,200 669,202 670,202"/>
<path d="M745,225 L725,250"/>
<path d="M748,240 L735,260"/>
<path d="M725,250C722,250 715,247 710,248C705,248 698,250 695,252C692,255 690,262 692,265C695,268 703,267 708,270C712,273 714,283 718,285C721,287 728,285 730,282C732,280 732,274 732,270C733,266 735,262 735,260"/>
<path d="M228,348C225,345 218,336 210,332C202,329 190,325 180,325C170,325 158,328 150,332C142,338 135,346 130,355C125,364 123,375 122,385C122,395 125,408 128,415C130,422 134,425 135,428"/>
<path d="M135,428C134,430 127,438 128,442C128,447 136,453 140,452C144,452 148,442 150,440"/>
<path d="M150,440C150,443 148,454 150,458C152,461 159,464 162,462C166,461 169,450 170,448"/>
<path d="M170,448C171,450 172,462 175,465C178,468 186,467 190,465C194,463 196,455 198,452"/>
<path d="M200,458C203,458 213,460 220,460C227,460 237,456 240,455"/>
<path d="M125,368C121,366 108,359 100,358C92,356 80,357 75,360C70,363 69,371 70,375C71,379 85,382 82,385C80,388 59,387 52,390C46,393 42,398 42,402C43,407 55,411 55,415C55,419 46,420 45,425C44,430 45,439 50,442C55,446 66,448 75,448C84,448 97,445 105,442C113,440 122,436 125,435"/>
<path d="M228,348C229,345 233,338 235,332C237,328 237,321 240,318C243,314 252,315 255,312C258,310 256,302 260,300C264,298 273,296 278,298C282,299 283,305 288,308C292,310 299,307 302,310C306,313 310,320 310,325C310,330 305,333 305,338C305,342 311,346 310,350C309,354 302,360 300,362"/>
<ellipse cx="220.0" cy="407.5" rx="20.0" ry="22.5"/>
<circle cx="222.5" cy="409.0" r="4.5" fill="#141414" stroke="none"/>
<ellipse cx="275.0" cy="385.0" rx="22.5" ry="25.0"/>
<circle cx="276.0" cy="390.0" r="5.0" fill="#141414" stroke="none"/>
<path d="M245,418C247,424 255,435 260,440C265,445 273,450 278,448C282,445 286,429 285,422C284,416 278,414 272,410C267,406 255,399 250,400C245,401 243,411 245,418Z"/>
<path d="M188,470C188,475 191,492 192,500C194,508 195,512 195,515"/>
<path d="M222,465C223,469 226,484 228,490C229,496 232,500 232,502"/>
<ellipse cx="200.0" cy="527.5" rx="15.0" ry="9.0" transform="rotate(30 200.0 527.5)"/>
<ellipse cx="245.0" cy="512.5" rx="15.0" ry="7.0" transform="rotate(20 245.0 512.5)"/>
<path d="M128,528C132,527 146,525 155,525C164,525 178,525 182,525"/>
<ellipse cx="137.5" cy="559.0" rx="22.5" ry="11.5" transform="rotate(-5 137.5 559.0)"/>
<ellipse cx="187.5" cy="574.0" rx="14.0" ry="8.5"/>
<ellipse cx="284.0" cy="642.5" rx="50.0" ry="81.0" transform="rotate(-22 284.0 642.5)"/>
<path d="M260,588C258,592 247,605 245,615C243,625 246,638 250,650C254,662 262,676 270,685C278,694 288,701 295,702C302,704 310,696 312,695"/>
<path d="M272,582C277,585 292,591 300,600C308,609 316,622 320,635C324,648 325,665 325,675C325,685 319,692 318,695"/>
<ellipse cx="274.0" cy="647.5" rx="12.0" ry="14.0"/>
<path d="M100,695C112,691 148,678 175,670C202,662 246,651 260,648"/>
<path d="M122,710C134,706 167,695 190,688C213,680 250,669 262,665"/>
<path d="M18,685C19,683 22,675 25,672C28,670 35,671 38,671"/>
<path d="M48,678C52,681 65,692 75,700C85,708 101,718 110,725C119,732 125,742 128,745"/>
<path d="M18,685C20,689 22,699 30,708C38,716 53,727 65,735C77,743 91,753 100,758C109,762 112,763 118,762C122,762 128,755 130,752C132,750 128,746 128,745"/>
<ellipse cx="120.0" cy="751.5" rx="8.0" ry="10.0"/>
<path d="M132,635C132,630 137,621 142,618C148,614 158,612 165,612C172,613 184,618 188,622C191,627 190,634 188,638C185,641 177,642 172,642C168,642 165,637 160,638C155,638 150,645 145,645C140,645 133,640 132,635Z"/>
<path d="M235,715C232,714 221,709 215,710C209,711 201,717 200,720C199,723 205,729 210,730C215,731 229,728 232,728"/>
<path d="M308,760C308,756 313,749 320,745C327,741 340,738 350,738C360,738 374,741 380,745C386,749 389,755 388,760C386,765 376,770 370,772C364,775 355,776 350,775C345,774 345,766 340,765C335,764 325,768 320,768C315,767 308,764 308,760Z"/>
<path d="M470,730C467,729 456,724 450,725C444,726 433,733 432,738C432,742 439,749 445,750C451,751 464,746 468,745"/>
<path d="M248,565C256,562 279,552 300,545C321,538 350,530 375,522C400,515 429,506 450,500C471,494 492,488 500,485"/>
<path d="M320,545 L328,555" stroke-width="9"/>
<path d="M360,530 L368,540" stroke-width="9"/>
<path d="M400,518 L408,525" stroke-width="9"/>
<path d="M435,508 L442,515" stroke-width="9"/>
<path d="M472,498 L478,505" stroke-width="9"/>
<circle cx="330.0" cy="575.0" r="3.5" fill="#141414" stroke="none"/>
<circle cx="345.0" cy="567.5" r="3.5" fill="#141414" stroke="none"/>
<path d="M342,710C352,707 382,695 400,690C418,685 433,682 450,678C467,673 492,667 500,665"/>
<path d="M370,658 L372,695" stroke-width="9"/>
<path d="M395,675 L398,692" stroke-width="9"/>
<path d="M422,668 L425,682" stroke-width="9"/>
<path d="M450,505C462,501 500,488 525,480C550,472 575,467 600,460C625,453 655,445 675,440C695,435 712,430 720,428"/>
<path d="M462,498 L470,508" stroke-width="9"/>
<path d="M502,492 L508,502" stroke-width="9"/>
<path d="M540,482 L545,490" stroke-width="9"/>
<path d="M588,468 L592,475" stroke-width="9"/>
<path d="M622,460 L628,468" stroke-width="9"/>
<path d="M660,450 L668,460" stroke-width="9"/>
<path d="M690,442 L700,452" stroke-width="9"/>
<path d="M720,428C725,428 740,426 750,430C760,434 772,441 780,450C788,459 794,472 798,485C801,498 803,512 802,525C802,538 798,551 792,560C787,569 774,577 770,580"/>
<path d="M770,580C758,584 728,595 700,605C672,615 629,630 600,640C571,650 550,656 525,662C500,669 462,677 450,680"/>
<path d="M685,598 L688,605" stroke-width="9"/>
<path d="M710,588 L712,598" stroke-width="9"/>
<path d="M735,580 L738,590" stroke-width="9"/>
<path d="M760,572 L762,580" stroke-width="9"/>
<circle cx="680.0" cy="577.5" r="3.5" fill="#141414" stroke="none"/>
<circle cx="710.0" cy="570.0" r="3.5" fill="#141414" stroke="none"/>
<circle cx="722.5" cy="567.5" r="3.5" fill="#141414" stroke="none"/>
<circle cx="762.5" cy="550.0" r="3.5" fill="#141414" stroke="none"/>
<path d="M785,438C791,440 808,448 820,452C832,458 849,465 855,468"/>
<path d="M850,480C846,484 832,497 825,505C818,513 808,524 805,528"/>
<path d="M850,510C848,513 844,525 845,530C846,535 852,542 855,542C858,542 862,535 862,530C862,525 857,516 855,512C853,509 852,507 850,510Z"/>
<path d="M500,580 L512,625" stroke-width="13"/>
<path d="M500,580C503,579 514,572 520,572C526,573 534,578 538,582C541,587 543,595 542,600C542,605 538,611 532,615C528,619 516,623 512,625" stroke-width="13"/>
<path d="M562,565 L575,610" stroke-width="13"/>
<path d="M562,565C566,564 576,557 582,558C589,558 596,563 600,568C604,572 606,580 605,585C604,590 600,596 595,600C590,604 578,608 575,610" stroke-width="13"/>
<path d="M600,545 L658,532" stroke-width="13"/>
<path d="M638,540 L650,590" stroke-width="13"/>
<path d="M670,635C676,626 688,621 700,618C712,614 728,613 740,615C752,617 765,622 775,630C785,638 795,648 800,660C805,672 804,688 802,700C801,712 797,725 790,735C783,745 772,753 760,758C748,762 732,762 720,760C708,758 694,753 685,745C676,737 669,722 665,710C661,698 662,682 662,670C663,658 664,644 670,635Z"/>
<ellipse cx="734" cy="689" rx="48" ry="51" stroke-dasharray="42 14"/>
<path d="M732,652C732,654 730,655 728,660C725,665 722,675 718,682C713,690 705,701 702,705"/>
<path d="M750,672C748,675 742,685 740,690C738,695 736,702 735,705"/>
<path d="M742,605C747,608 761,614 770,620C779,626 791,637 795,640"/>
<path d="M538,668C544,672 560,684 575,692C590,701 609,712 625,720C641,728 662,737 670,740"/>
<path d="M582,672 L585,685" stroke-width="9"/>
<path d="M605,688 L608,700" stroke-width="9"/>
<path d="M622,695 L625,708" stroke-width="9"/>
<path d="M638,672 L640,680" stroke-width="9"/>
<path d="M450,730C452,732 462,739 465,740C468,741 470,735 471,734"/>
<path d="M510,720C510,715 518,709 525,708C532,706 542,707 550,710C558,713 568,720 570,725C572,730 562,735 562,740C562,745 572,750 570,755C568,760 558,765 550,768C542,770 532,770 525,768C518,765 510,760 510,755C510,750 522,746 522,740C522,734 510,725 510,720Z"/>
<path d="M645,390 L655,410"/>
<path d="M695,365 L698,395"/>
<path d="M815,395 L825,410"/>
</g></svg>
<!-- 60_book.svg -->
<svg width="255" height="164" viewBox="0 0 1275 820" style="left:545px;top:66px"><g class="ink" stroke="#141414" stroke-width="13">
<path d="M105,325C102,320 93,306 90,295C87,284 85,271 88,260C90,249 95,237 102,228C110,218 120,210 130,205C140,200 154,197 165,198C176,198 187,201 195,208C203,214 208,225 212,235C217,245 219,258 220,270C221,282 220,294 218,305C215,316 209,330 208,335"/>
<path d="M105,325C102,323 92,315 85,312C78,310 67,310 60,312C53,315 46,321 42,328C39,334 38,343 40,350C42,357 48,364 55,370C62,376 76,382 80,385"/>
<path d="M135,262C134,265 126,274 126,280C126,286 134,296 136,299"/>
<path d="M165,270C162,270 153,270 150,272C147,275 146,282 148,285C149,288 158,291 160,292"/>
<path d="M182,265C184,268 190,275 190,280C190,285 186,292 185,295"/>
<path d="M80,385 L140,358 L208,335"/>
<path d="M95,405 L155,378 L215,350"/>
<path d="M80,385 L95,405"/>
<path d="M25,390C30,390 46,392 55,392C64,393 76,395 80,395"/>
<path d="M22,418C28,416 44,410 55,408C66,405 84,403 90,402"/>
<path d="M208,335C212,332 226,325 235,318C244,310 254,300 260,290C266,280 268,263 270,258"/>
<path d="M215,345C219,344 232,340 240,340C248,340 259,342 265,348C271,352 275,366 278,370"/>
<path d="M212,370C217,373 232,381 240,390C248,399 257,419 260,425"/>
<path d="M270,192C273,197 282,207 290,218C298,228 311,249 315,255"/>
<path d="M315,152C313,149 306,138 305,130C304,122 305,112 310,105C315,98 324,90 335,88C346,85 362,85 375,88C388,90 400,96 410,102C420,109 428,118 432,125C438,132 439,140 440,142"/>
<path d="M315,152C320,155 335,165 345,170C355,175 365,181 375,185C385,189 398,191 402,192"/>
<path d="M345,120C350,122 364,125 375,130C386,135 401,145 410,150C419,155 427,160 430,162"/>
<path d="M315,160 L305,180"/>
<path d="M340,170 L328,192"/>
<path d="M370,188 L360,210"/>
<ellipse cx="430.0" cy="187.5" rx="18.0" ry="16.5"/>
<circle cx="430.0" cy="189.0" r="5.0" fill="#141414" stroke="none"/>
<ellipse cx="462.5" cy="165.0" rx="18.0" ry="18.0"/>
<circle cx="461.5" cy="166.0" r="5.0" fill="#141414" stroke="none"/>
<path d="M450,200C454,206 469,229 475,235C481,241 485,239 488,238C490,236 493,235 490,228C487,220 471,200 468,195"/>
<path d="M440,210C440,214 444,229 442,235C441,241 434,247 430,248C426,248 420,239 418,238"/>
<path d="M480,185C483,187 494,195 500,195C506,195 511,189 515,185C519,181 521,175 522,172"/>
<path d="M380,430C381,414 383,351 384,332C385,313 382,322 384,318C386,313 391,308 396,305C401,302 404,301 415,298C426,294 448,288 465,285C482,282 507,283 515,282"/>
<path d="M310,430 L318,356"/>
<path d="M329,430 L335,358"/>
<path d="M353,430 L355,352"/>
<path d="M318,356C321,355 328,352 335,351C342,350 358,349 363,349"/>
<path d="M363,349 L363,333 L384,332"/>
<path d="M368,430 L370,335"/>
<path d="M548,92C548,102 551,130 552,150C554,170 557,200 558,210"/>
<ellipse cx="586.0" cy="79.0" rx="16.5" ry="15.0"/>
<ellipse cx="584.0" cy="127.5" rx="10.0" ry="10.0"/>
<path d="M695,140C692,135 681,121 675,110C669,99 662,85 660,75C658,65 660,57 662,52C665,48 670,46 675,50C680,54 685,64 690,75C695,86 700,105 702,115C705,125 707,134 708,138"/>
<path d="M710,135C709,127 705,101 705,85C705,69 709,50 712,40C716,30 720,26 725,25C730,24 737,28 740,35C743,42 743,53 742,65C742,77 738,94 735,105C732,116 727,128 725,132"/>
<ellipse cx="640.0" cy="167.5" rx="20.0" ry="21.5"/>
<circle cx="641.0" cy="169.0" r="5.0" fill="#141414" stroke="none"/>
<ellipse cx="680.0" cy="167.5" rx="19.0" ry="20.0"/>
<circle cx="680.0" cy="169.0" r="5.0" fill="#141414" stroke="none"/>
<path d="M702,142C705,144 715,145 720,150C725,155 729,163 730,170C731,177 730,185 728,190C725,195 717,200 715,202"/>
<path d="M630,202C630,205 629,216 632,220C636,224 642,227 650,228C658,228 671,225 680,222C689,220 698,216 705,212C712,209 718,204 720,202"/>
<path d="M725,132C728,132 739,126 745,128C751,129 758,135 762,140C767,145 770,153 770,160C770,167 767,175 762,180C758,185 750,187 745,188C740,188 732,183 730,182"/>
<path d="M765,138C768,136 779,130 785,130C791,130 797,135 800,140C803,145 803,154 802,160C802,166 799,173 795,175C791,177 782,173 780,172"/>
<path d="M800,142C802,142 809,136 815,138C821,139 830,145 835,150C840,155 845,162 845,168C845,172 842,178 838,180C833,182 825,180 820,178C815,175 808,167 805,165"/>
<ellipse cx="897.5" cy="189.0" rx="19.0" ry="19.0"/>
<ellipse cx="876.0" cy="235.0" rx="11.5" ry="11.5"/>
<path d="M475,285C483,285 508,282 525,282C542,282 558,284 575,285C592,286 612,288 625,290C638,292 648,298 652,300"/>
<path d="M655,305C660,303 672,296 685,292C698,289 716,287 735,285C754,283 778,282 800,282C822,282 846,284 865,285C884,286 902,288 915,290C928,292 936,298 940,300"/>
<path d="M658,305C658,310 659,325 660,335C661,345 662,362 662,368"/>
<path d="M1008,135C1002,135 984,135 975,132C966,130 958,127 955,122C952,118 952,111 958,108C962,104 980,106 985,102C990,99 985,90 990,88C995,85 1009,84 1015,85C1021,86 1023,93 1025,95"/>
<path d="M1025,95C1025,92 1024,81 1028,78C1031,74 1039,72 1045,72C1051,73 1059,78 1062,82C1066,87 1067,95 1068,98"/>
<path d="M1008,135C1010,132 1017,122 1025,118C1033,113 1045,110 1055,110C1065,110 1078,112 1085,115C1092,118 1098,123 1100,125"/>
<path d="M1100,125 L1108,102 L1125,92 L1120,115 L1145,98 L1175,95 L1170,115 L1155,125 L1170,130 L1165,150 L1150,152 L1168,162 L1160,180 L1142,178"/>
<path d="M1142,178C1143,181 1147,194 1145,200C1143,206 1135,214 1130,215C1125,216 1120,207 1118,205"/>
<path d="M1118,205C1117,209 1116,225 1112,230C1109,235 1102,239 1098,238C1093,236 1089,225 1088,222"/>
<path d="M1088,222C1087,227 1086,244 1082,250C1079,256 1070,259 1065,258C1060,256 1057,248 1055,242C1053,238 1055,230 1055,228"/>
<ellipse cx="997.5" cy="167.5" rx="21.5" ry="24.0"/>
<circle cx="997.5" cy="172.5" r="5.0" fill="#141414" stroke="none"/>
<ellipse cx="1035.0" cy="200.0" rx="24.0" ry="26.5"/>
<circle cx="1029.0" cy="205.0" r="5.0" fill="#141414" stroke="none"/>
<path d="M972,198 L955,228 L975,232 L998,222"/>
<ellipse cx="896.5" cy="186.5" rx="19.0" ry="18.0"/>
<ellipse cx="876.0" cy="236.0" rx="11.5" ry="10.0"/>
<ellipse cx="1097.5" cy="362.5" rx="13.0" ry="13.0"/>
<ellipse cx="1162.5" cy="365.0" rx="20.0" ry="20.0"/>
<path d="M1032,300C1040,300 1060,298 1075,298C1090,297 1112,299 1120,299" stroke-width="15"/>
<path d="M825,288C833,288 858,288 875,290C892,292 912,297 925,300C938,303 948,306 952,308"/>
<path d="M928,308C929,317 935,345 938,365C940,385 944,415 945,425"/>
<path d="M952,308C954,317 958,345 960,365C962,385 964,415 965,425"/>
<path d="M962,335C965,336 971,333 975,340C979,347 982,361 985,375C988,389 989,417 990,425"/>
<path d="M990,350C992,352 1001,352 1005,360C1009,368 1013,384 1015,395C1017,406 1017,420 1018,425"/>
<path d="M85,430C84,434 79,448 80,455C81,462 84,471 90,475C96,479 107,482 115,480C123,478 134,470 140,465C146,460 150,452 152,450"/>
<path d="M152,450C155,455 159,471 165,480C171,489 180,498 190,502C200,507 215,510 225,508C235,505 243,498 250,490C257,482 262,470 265,460C268,450 267,438 265,430C263,422 257,413 255,410"/>
<path d="M85,430C86,427 87,415 90,410C93,405 100,402 102,400"/>
<path d="M188,428C187,430 182,439 182,445C183,451 191,460 192,462"/>
<path d="M212,430C210,431 202,432 200,435C198,438 196,445 198,448C199,450 206,452 208,452"/>
<path d="M230,425 L232,442"/>
<ellipse cx="278.5" cy="520.0" rx="10.0" ry="11.5"/>
<ellipse cx="251.0" cy="562.5" rx="15.0" ry="13.0"/>
<ellipse cx="176.0" cy="617.5" rx="16.5" ry="19.0"/>
<path d="M138,572C144,570 158,579 165,578C172,576 173,566 180,565C187,564 200,566 205,570C210,574 206,585 210,590C214,595 227,595 230,600C233,605 230,615 228,620C225,625 216,625 215,630C214,635 221,645 220,650C219,655 212,661 208,662C202,664 195,658 190,660C185,662 185,674 180,678C175,681 165,682 160,680C155,678 151,670 150,665C149,660 156,656 152,652C149,649 136,648 130,645C124,642 118,640 118,635C117,630 122,622 125,618C128,613 138,612 138,608C138,603 125,596 125,590C125,584 131,575 138,572Z"/>
<path d="M182,758 L205,728 L232,695"/>
<path d="M310,420C309,437 305,478 302,520C300,562 297,630 295,670C293,710 293,745 292,760"/>
<path d="M292,760C305,759 340,755 365,752C390,750 415,748 440,745C465,742 502,735 515,732"/>
<path d="M325,420C324,437 322,482 320,520C318,558 316,610 315,645C314,680 313,718 312,732"/>
<path d="M312,732C323,732 353,732 375,730C397,728 422,724 445,720C468,716 503,710 515,708"/>
<path d="M348,420C347,437 344,482 342,520C341,558 340,614 340,645C340,676 339,694 340,705C341,716 346,709 348,710"/>
<path d="M348,710C359,708 387,704 415,700C443,696 498,690 515,688"/>
<path d="M372,420C371,437 367,487 365,520C363,553 362,595 362,620C362,645 363,660 365,670C367,680 371,678 372,680"/>
<path d="M372,680C380,678 400,673 415,670C430,667 448,662 465,660C482,658 507,656 515,655"/>
<path d="M430,390 L432,435" stroke-width="13"/>
<path d="M430,390C433,389 444,385 450,385C456,385 463,389 465,392C467,396 466,404 462,408C459,411 450,414 445,415C440,416 435,415 432,415" stroke-width="13"/>
<path d="M478,392 L480,438" stroke-width="13"/>
<path d="M478,392C481,392 492,387 498,388C503,388 509,392 510,395C511,398 510,404 505,408C500,411 486,414 482,415" stroke-width="13"/>
<path d="M490,415 L515,438" stroke-width="13"/>
<path d="M532,402 L535,428" stroke-width="13"/>
<path d="M554,438 L568,392 L588,420 L608,390 L620,435" stroke-width="13"/>
<path d="M630,438 L652,390 L675,435" stroke-width="13"/>
<path d="M640,420 L668,418" stroke-width="13"/>
<path d="M685,395 L708,438 L728,392" stroke-width="13"/>
<path d="M758,395 L758,438" stroke-width="13"/>
<path d="M758,395 L788,392" stroke-width="13"/>
<path d="M758,415 L782,412" stroke-width="13"/>
<path d="M758,438 L790,436" stroke-width="13"/>
<path d="M808,395 L810,438" stroke-width="13"/>
<path d="M808,395C811,394 824,390 830,390C836,390 843,394 845,398C847,401 845,407 840,410C835,413 817,416 812,418" stroke-width="13"/>
<path d="M822,418 L848,436" stroke-width="13"/>
<path d="M868,438 L888,390 L908,435" stroke-width="13"/>
<path d="M875,420 L900,419" stroke-width="13"/>
<path d="M490,478C488,477 479,472 475,472C471,473 465,479 465,482C465,486 469,492 472,495C476,498 485,499 488,502C490,506 492,512 490,515C488,518 482,522 478,522C473,523 465,518 462,518" stroke-width="13"/>
<path d="M515,480 L518,518" stroke-width="13"/>
<path d="M538,478 L540,518 L565,516" stroke-width="13"/>
<path d="M588,478 L588,518" stroke-width="13"/>
<path d="M588,478 L612,475" stroke-width="13"/>
<path d="M588,498 L610,495" stroke-width="13"/>
<path d="M588,518 L615,516" stroke-width="13"/>
<path d="M635,515 L635,480 L668,512 L672,475" stroke-width="13"/>
<path d="M685,480 L715,478 L688,515 L722,512" stroke-width="13"/>
<path d="M742,480 L744,515" stroke-width="13"/>
<ellipse cx="776.0" cy="497.5" rx="14.0" ry="19.0" stroke-width="13"/>
<path d="M842,478C840,477 832,472 828,472C823,473 818,479 818,482C817,486 821,492 825,495C829,498 838,499 840,502C842,506 842,512 840,515C838,518 832,520 828,520C823,520 817,516 815,515" stroke-width="13"/>
<path d="M860,518 L882,470 L902,515" stroke-width="13"/>
<path d="M868,500 L895,499" stroke-width="13"/>
<path d="M425,568C436,566 462,563 490,560C518,557 573,551 590,549" stroke-width="15"/>
<path d="M460,590C468,589 490,586 505,585C520,584 540,583 548,582" stroke-width="14"/>
<path d="M720,555C736,554 784,551 815,551C846,551 890,552 905,552" stroke-width="14"/>
<path d="M740,590C752,589 791,585 815,582C839,580 871,576 882,575" stroke-width="15"/>
<path d="M660,320 L660,368"/>
<path d="M672,568 L672,620 L672,670"/>
<path d="M475,655C488,655 527,654 550,655C573,656 599,660 615,662C631,665 635,668 645,670C655,672 670,674 675,675" stroke-width="15"/>
<path d="M475,692C488,690 525,683 550,680C575,677 604,675 625,675C646,675 667,677 675,678"/>
<path d="M475,715C488,712 523,704 550,700C577,696 614,693 635,690C656,687 668,682 675,680"/>
<path d="M475,745C488,742 523,735 550,730C577,725 621,718 635,715"/>
<path d="M675,675C682,673 697,668 715,665C733,662 758,657 785,655C812,653 843,652 875,651C907,650 958,651 975,651" stroke-width="15"/>
<path d="M690,672C704,673 744,674 775,675C806,676 842,676 875,678C908,679 958,682 975,682"/>
<path d="M695,680C708,682 745,686 775,690C805,694 842,699 875,702C908,706 958,709 975,710"/>
<path d="M705,702C717,703 747,705 775,708C803,710 842,716 875,720C908,724 958,730 975,732"/>
<path d="M635,715C636,713 637,704 640,705C643,706 648,717 655,720C662,723 677,725 685,722C693,720 703,709 705,702C707,696 700,689 695,685C690,681 678,681 675,680"/>
<path d="M945,420C947,432 953,466 958,495C962,524 969,569 972,595C976,621 980,640 980,650C980,660 974,654 972,655"/>
<path d="M972,655C965,655 945,655 925,655C905,655 875,652 850,652C825,652 788,655 775,655"/>
<path d="M968,420C970,437 977,485 982,520C988,555 996,605 1000,630C1004,655 1008,662 1008,670C1008,678 1001,676 1000,678"/>
<path d="M1000,678C988,677 950,675 925,675C900,675 875,675 850,675C825,675 788,677 775,678"/>
<path d="M990,420C992,437 999,482 1005,520C1011,558 1020,615 1025,645C1030,675 1032,690 1032,700C1032,710 1026,706 1025,708"/>
<path d="M1025,708C1012,706 979,703 950,700C921,697 879,692 850,690C821,688 788,688 775,688"/>
<path d="M1015,420C1018,437 1025,482 1030,520C1035,558 1043,611 1048,645C1052,679 1058,710 1058,725C1057,740 1047,733 1045,735"/>
<path d="M1045,735C1033,733 1003,729 975,725C947,721 908,714 875,710C842,706 792,702 775,700"/>
<path d="M1080,432C1085,432 1100,431 1110,432C1120,434 1137,441 1142,442"/>
<circle cx="1172.5" cy="441.0" r="4.5" fill="#141414" stroke="none"/>
<ellipse cx="1205.0" cy="449.0" rx="11.5" ry="11.5"/>
<ellipse cx="1164.0" cy="565.0" rx="16.5" ry="16.5"/>
<path d="M1105,528C1104,522 1104,515 1108,512C1111,510 1119,508 1125,510C1131,512 1137,527 1142,528C1148,528 1153,515 1160,512C1167,510 1178,508 1185,510C1192,512 1202,521 1205,528C1208,534 1200,543 1202,550C1205,557 1219,561 1220,568C1221,574 1215,585 1210,590C1205,595 1194,590 1190,595C1186,600 1189,612 1185,618C1181,623 1171,628 1165,628C1159,627 1154,614 1148,612C1141,611 1130,620 1125,618C1120,615 1118,603 1118,598C1117,592 1125,587 1122,582C1120,578 1104,576 1102,570C1101,564 1115,555 1115,548C1115,540 1106,533 1105,528Z"/>
<ellipse cx="1102.5" cy="654.0" rx="10.0" ry="8.0"/>
<ellipse cx="1146.0" cy="676.0" rx="15.0" ry="14.0"/>
</g></svg>
<!-- 70_factory.svg -->
<svg width="285" height="175" viewBox="0 0 1425 875" style="left:690px;top:248px"><g class="ink" stroke="#141414" stroke-width="12">
<path d="M122,290C127,286 137,272 150,265C163,258 182,252 200,250C218,248 246,252 255,252"/>
<path d="M255,252C255,262 258,289 258,310C258,331 255,368 255,380"/>
<path d="M122,290C124,299 129,325 132,345C136,365 141,397 142,408"/>
<path d="M145,380C151,378 168,368 180,365C192,362 208,360 220,360C232,360 247,364 252,365"/>
<path d="M100,428C100,423 98,420 115,415C132,410 171,400 200,395C229,390 273,383 290,382C307,382 300,389 300,392C300,396 307,400 290,405C273,410 229,414 200,420C171,426 132,439 115,440C98,441 100,432 100,428Z"/>
<path d="M155,450C152,452 139,455 135,460C131,465 130,475 132,480C135,485 145,488 148,490"/>
<path d="M148,490C145,495 137,509 132,520C128,531 122,549 120,555"/>
<ellipse cx="212.5" cy="457.5" rx="13.0" ry="15.0"/>
<path d="M210,435 L215,445"/>
<path d="M258,425C260,431 270,449 275,460C280,471 289,483 290,490C291,497 288,498 282,500C278,502 267,506 260,505C253,504 247,499 242,495C238,491 234,485 232,482"/>
<path d="M202,512C206,511 217,506 225,505C233,504 246,505 250,505"/>
<path d="M285,505C290,504 306,498 315,498C324,498 337,501 340,505C343,509 340,516 335,520C330,524 318,528 310,528C302,527 291,519 288,518"/>
<path d="M330,485C332,481 344,468 345,460C346,452 335,447 335,440C335,433 345,426 345,420C345,414 333,409 332,402C332,396 333,388 340,382C347,378 367,372 375,372C383,372 388,378 388,382C387,388 372,395 370,402C368,410 376,418 375,425C374,432 363,438 362,445C362,452 371,459 370,465C369,471 360,479 355,482C350,486 340,487 338,488"/>
<path d="M98,590C102,586 116,570 125,565C134,560 136,558 150,558C164,557 191,560 210,562C229,565 251,567 265,570C279,573 290,578 295,580"/>
<path d="M295,520C297,526 302,543 305,555C308,567 309,584 310,590"/>
<path d="M258,335C262,328 275,305 285,290C295,275 304,258 315,245C326,232 344,216 350,210"/>
<path d="M440,498C443,494 452,483 460,478C468,472 476,467 485,465C494,463 508,465 512,465"/>
<path d="M410,495 L390,500 L375,515 L372,535 L382,550 L390,540 L395,560 L408,555 L410,568 L425,555 L432,545 L450,550 L455,530 L445,510 L430,500"/>
<path d="M148,485C145,490 139,504 135,515C131,526 125,546 122,552"/>
<path d="M290,520C291,525 295,540 298,550C300,560 304,575 305,580"/>
<path d="M140,558C148,559 168,563 185,565C202,567 223,566 240,568C257,569 272,570 285,572C298,575 305,580 315,585C325,590 340,598 345,600"/>
<path d="M140,558C135,561 120,570 110,580C100,590 87,603 80,615C73,627 68,638 68,650C67,662 70,675 75,685C80,695 90,704 100,710C110,716 125,721 132,720C140,719 143,708 145,705"/>
<path d="M175,580C174,585 170,600 170,610C170,620 172,635 172,640"/>
<path d="M145,705C145,700 142,686 142,675C143,664 142,647 148,640C152,633 165,632 172,632C180,632 187,639 190,640"/>
<path d="M190,640 L185,655 L170,660 L185,665 L182,680 L168,682 L185,688 L175,700 L148,702"/>
<path d="M110,720 L112,738 L145,735 L175,730 L172,705"/>
<path d="M110,622 L142,628"/>
<path d="M128,610C129,613 134,626 138,630C141,634 148,634 150,635"/>
<path d="M185,580C189,583 201,594 210,598C219,601 231,601 240,600C249,599 260,596 265,592C270,589 271,580 272,578"/>
<path d="M298,590C298,598 301,621 300,635C299,649 294,663 290,675C286,687 280,698 275,705C270,712 266,716 260,715C254,714 245,697 240,698C235,698 235,716 230,718C225,719 217,713 210,708C203,702 193,689 190,685"/>
<circle cx="242.5" cy="627.5" r="6.0" fill="#141414" stroke="none"/>
<circle cx="242.5" cy="652.5" r="6.0" fill="#141414" stroke="none"/>
<path d="M310,590C312,597 322,616 325,630C328,644 330,664 330,675C330,686 326,692 325,695"/>
<path d="M330,610C334,611 346,612 355,615C364,618 380,623 385,625"/>
<path d="M325,695C322,696 312,701 305,702C298,704 288,705 285,705"/>
<path d="M335,685 L365,692 L370,675"/>
<path d="M375,635C374,639 370,650 370,658C370,665 374,674 375,678"/>
<path d="M385,625C388,625 396,622 405,622C414,623 432,627 440,630C448,633 451,637 450,640C449,643 441,646 435,648C429,649 418,650 415,650"/>
<path d="M390,650C392,649 395,645 400,645C405,645 417,648 420,650C423,652 423,658 420,660C417,662 403,664 400,665"/>
<path d="M395,668C398,667 411,663 415,665C419,667 420,675 418,678C415,680 406,682 400,682C394,682 387,679 382,678C378,676 376,673 375,672"/>
<path d="M345,600C355,603 385,615 405,620C425,625 445,628 465,632C485,637 515,643 525,645"/>
<path d="M125,745C122,751 113,771 110,780C107,789 106,797 105,800"/>
<path d="M198,718C195,724 185,745 180,755C175,765 168,770 170,775C172,780 188,784 195,788C202,791 212,796 215,798"/>
<path d="M55,798 L85,800 L150,802 L215,801"/>
<path d="M245,720C248,726 258,745 265,758C272,770 282,789 285,795"/>
<path d="M312,715C315,722 320,745 325,755C330,765 338,769 345,775C352,781 364,786 370,790C376,794 378,798 380,800"/>
<path d="M255,802 L315,802 L380,801"/>
<path d="M460,72C458,70 471,53 480,48C489,42 504,42 515,40C526,38 534,36 545,32C556,29 568,22 580,20C592,18 610,15 620,18C630,20 640,27 642,32C645,38 642,48 635,52C628,57 612,60 600,60C588,60 576,54 565,55C554,56 547,66 535,68C523,69 508,64 495,65C482,66 462,75 460,72Z"/>
<path d="M582,90C584,87 611,90 625,88C639,85 651,78 665,75C679,72 696,74 710,72C724,71 737,66 750,65C763,64 778,63 790,65C802,67 819,71 825,78C831,84 832,99 828,105C823,111 810,113 800,112C790,112 776,103 765,102C754,102 747,108 735,110C723,112 708,117 695,118C682,118 668,114 655,112C642,111 627,111 615,108C603,104 581,93 582,90Z"/>
<path d="M430,90 L410,115 L385,155 L355,195 L325,235"/>
<path d="M460,92 L445,135 L428,178"/>
<path d="M430,90 L460,92"/>
<path d="M408,122C411,123 421,123 428,124C434,125 444,128 448,128"/>
<path d="M390,150C394,150 405,151 412,152C420,154 431,157 435,158"/>
<path d="M385,180 L355,210 L325,240"/>
<path d="M540,100 L520,132 L495,170"/>
<path d="M572,102 L562,135 L550,170"/>
<path d="M540,100 L572,102"/>
<path d="M525,128C528,128 538,128 545,129C552,130 562,133 565,133"/>
<path d="M510,155C514,155 525,155 532,156C540,157 551,160 555,161"/>
<path d="M385,182 L428,180 L500,172 L575,168 L582,185"/>
<path d="M385,182 L415,250 L438,300 L470,235 L498,195"/>
<path d="M498,195 L525,260 L548,328 L575,275 L605,230"/>
<path d="M512,200 L575,188 L635,188 L685,188 L688,225"/>
<path d="M605,230 L625,280 L650,335"/>
<path d="M610,232C621,232 652,228 675,228C698,227 733,227 750,230C767,233 768,237 775,245C782,253 789,266 795,280C801,294 808,312 812,330C817,348 819,380 820,390"/>
<path d="M650,335 L725,331 L815,330"/>
<path d="M650,335 L635,390"/>
<path d="M868,97C869,92 875,86 880,85C885,84 893,90 898,90C903,90 908,83 912,85C916,87 921,96 920,101C919,106 910,112 905,113C900,114 894,109 888,109C883,109 875,115 872,113C869,111 867,102 868,97Z"/>
<path d="M648,338 L725,335 L820,335"/>
<path d="M648,338C644,350 634,381 625,410C616,439 604,481 595,510C586,539 577,562 570,585C563,608 558,639 555,650"/>
<path d="M820,335C818,348 815,381 810,410C805,439 798,479 790,510C782,541 770,579 765,595C760,611 761,605 760,608"/>
<path d="M555,650C567,648 601,640 625,635C649,630 678,625 700,620C722,615 750,610 760,608"/>
<path d="M675,398C676,400 683,409 682,415C682,421 673,429 672,435C672,441 674,450 678,452C681,455 689,453 692,450C696,447 698,440 698,435C697,430 689,420 688,418"/>
<path d="M770,378C768,382 760,397 755,405C750,413 742,421 740,428C738,434 740,440 742,442C745,445 754,447 758,445C761,443 765,435 765,430C765,425 757,415 755,412"/>
<path d="M612,580C614,576 615,565 620,555C625,545 634,530 645,520C656,510 672,503 685,498C698,492 715,489 725,488C735,486 744,490 748,490"/>
<path d="M612,580C613,584 612,600 615,605C618,610 621,612 630,610C639,608 657,598 670,590C683,582 698,572 710,565C722,558 735,550 740,548"/>
<path d="M655,520 L662,580"/>
<path d="M692,500 L698,562"/>
<path d="M725,490 L722,548"/>
<path d="M792,478C795,479 805,484 810,488C815,491 822,498 825,500"/>
<path d="M825,500C828,496 834,484 840,478C846,471 852,462 860,460C868,458 875,463 885,468C895,472 913,480 920,485C927,490 927,494 925,498C923,501 916,507 910,508C904,508 893,501 890,500"/>
<path d="M825,500C824,503 819,515 820,520C821,525 828,529 832,530C838,531 846,523 850,525C854,527 852,537 855,540C858,543 866,547 870,545C874,543 877,535 880,530C883,525 888,519 888,515C888,511 881,507 880,505"/>
<ellipse cx="872.5" cy="492.5" rx="6.5" ry="9.0" stroke-width="7"/>
<ellipse cx="872.5" cy="514.0" rx="6.5" ry="6.5" stroke-width="7"/>
<ellipse cx="860.0" cy="530.0" rx="6.5" ry="6.5" stroke-width="7"/>
<path d="M500,638C505,639 521,645 530,648C539,650 551,650 555,650"/>
<path d="M500,465 L512,465"/>
<path d="M578,655C575,662 569,687 565,700C561,713 555,729 552,735"/>
<path d="M538,766 L600,766 L570,734Z"/>
<path d="M470,640C466,648 454,672 445,690C436,708 420,740 415,750"/>
<path d="M380,770 L415,772 L480,772 L450,738 L432,730"/>
<path d="M1108,250 L1114,300"/>
<path d="M1172,240 L1166,288"/>
<path d="M1258,262 L1240,310"/>
<path d="M1320,368 L1330,360"/>
<path d="M1120,365C1118,368 1107,374 1105,380C1103,386 1108,395 1110,400C1112,405 1118,406 1120,408"/>
<path d="M1145,380C1142,382 1132,385 1130,390C1128,395 1132,407 1132,410"/>
<path d="M1160,380C1158,377 1155,365 1158,360C1160,355 1169,349 1175,348C1181,346 1191,347 1195,350C1199,353 1202,361 1200,365C1198,369 1190,370 1185,372C1180,375 1172,379 1168,380C1163,381 1162,383 1160,380Z"/>
<path d="M1212,370C1214,368 1218,361 1222,360C1227,359 1236,362 1240,365C1244,368 1244,378 1245,380"/>
<path d="M1225,390C1228,388 1238,380 1245,380C1252,380 1260,383 1265,388C1270,392 1271,402 1272,405"/>
<path d="M1240,410C1244,409 1258,404 1265,405C1272,406 1280,410 1285,415C1290,420 1295,427 1295,432C1295,438 1287,445 1285,448"/>
<path d="M1250,440C1253,439 1265,434 1270,435C1275,436 1278,445 1280,448"/>
<path d="M1258,460C1261,459 1273,455 1280,455C1287,455 1297,457 1300,460C1303,463 1300,472 1298,475C1295,478 1285,477 1282,478"/>
<path d="M1132,425C1131,430 1123,445 1122,455C1122,465 1124,476 1128,485C1131,494 1140,504 1145,510C1150,516 1158,518 1160,520"/>
<path d="M1160,520C1163,519 1172,518 1180,515C1188,512 1201,506 1210,500C1219,494 1231,481 1235,478"/>
<path d="M1238,480C1239,483 1241,496 1245,500C1249,504 1256,507 1260,505C1264,503 1266,492 1268,490"/>
<path d="M1170,405 L1178,415"/>
<circle cx="1217.5" cy="435.0" r="5.0" fill="#141414" stroke="none"/>
<path d="M1168,435 L1182,445"/>
<path d="M1150,462C1153,463 1163,465 1168,468C1172,470 1175,476 1178,480C1180,484 1180,488 1180,490"/>
<path d="M1155,520 L1158,540"/>
<path d="M1185,520 L1188,542"/>
<path d="M1135,542 L1140,558"/>
<path d="M1172,565 L1182,552 L1192,565 L1202,550"/>
<path d="M1200,568C1203,569 1215,570 1220,575C1225,580 1228,590 1228,595C1227,600 1220,606 1215,608C1210,609 1198,605 1195,605"/>
<path d="M1220,620C1220,624 1221,638 1220,645C1219,652 1214,660 1212,662"/>
<path d="M1042,580C1044,578 1044,568 1050,565C1056,562 1069,560 1080,560C1091,560 1105,564 1115,568C1125,571 1134,578 1140,582C1146,588 1148,595 1150,598"/>
<path d="M1055,588C1059,587 1070,582 1080,582C1090,583 1104,587 1115,590C1126,593 1140,598 1145,600"/>
<path d="M1042,580 L1055,588"/>
<path d="M1055,588C1057,591 1064,602 1065,610C1066,618 1061,629 1060,632"/>
<path d="M1060,615C1062,616 1071,617 1075,620C1079,623 1085,628 1085,632C1085,637 1078,642 1078,645C1078,648 1085,650 1085,652C1085,655 1081,659 1075,660C1069,661 1055,660 1050,658C1045,655 1045,648 1045,642C1045,637 1049,628 1050,625"/>
<path d="M1045,660 L1025,678 L1060,695 L1120,722 L1135,710 L1155,685"/>
<path d="M1150,598C1152,602 1158,618 1160,625C1162,632 1164,638 1165,640"/>
<path d="M1165,640C1162,640 1154,635 1150,638C1146,640 1140,648 1140,652C1140,657 1147,664 1150,665C1153,666 1155,661 1160,660C1165,659 1177,658 1180,658"/>
<path d="M1185,630C1186,633 1191,643 1190,648C1189,652 1182,656 1180,658"/>
<path d="M1160,670C1163,671 1173,677 1180,678C1187,678 1197,673 1200,672"/>
<path d="M1150,702 L1185,705 L1222,702"/>
<path d="M1215,705C1214,710 1210,728 1208,735C1205,742 1201,743 1200,745"/>
<path d="M1135,730C1139,731 1149,732 1160,735C1171,738 1193,743 1200,745"/>
<path d="M1108,728C1108,733 1111,750 1110,760C1109,770 1104,778 1100,785C1096,792 1086,798 1088,800C1089,802 1103,798 1110,795C1117,792 1126,792 1130,785C1134,778 1135,764 1135,755C1135,746 1133,736 1132,732"/>
<path d="M1158,740 L1158,780 L1155,808"/>
<path d="M1188,742 L1188,790 L1195,800 L1242,802"/>
<path d="M1155,808 L1172,802 L1195,800"/>
</g></svg>
<!-- 80_birds.svg -->
<svg width="250" height="150" viewBox="0 0 1250 750" style="left:550px;top:445px"><g class="ink" stroke="#141414" stroke-width="12.5">
<path d="M55,355 L65,300 L98,340" stroke-width="13"/>
<path d="M58,335 L90,325" stroke-width="13"/>
<path d="M150,292C147,292 137,288 132,290C128,292 123,298 122,302C122,307 126,313 130,315C134,317 145,313 148,312" stroke-width="13"/>
<ellipse cx="169.0" cy="296.0" rx="9.5" ry="10.5" stroke-width="13"/>
<path d="M195,302 L192,265 L215,288 L228,252 L245,285" stroke-width="13"/>
<path d="M255,245 L270,280" stroke-width="13"/>
<path d="M255,245 L278,232" stroke-width="13"/>
<path d="M262,260 L280,252" stroke-width="13"/>
<path d="M270,280 L290,270" stroke-width="13"/>
<path d="M118,405 L135,355 L155,395" stroke-width="13"/>
<path d="M122,385 L150,378" stroke-width="13"/>
<path d="M172,385 L165,350" stroke-width="13"/>
<path d="M165,350C168,349 180,342 185,342C190,343 192,349 192,352C192,356 189,362 185,365C181,368 172,369 170,370" stroke-width="13"/>
<path d="M212,345 L218,368" stroke-width="13"/>
<circle cx="245.0" cy="352.5" r="6.0" fill="#141414" stroke="none"/>
<circle cx="265.0" cy="347.5" r="6.0" fill="#141414" stroke="none"/>
<circle cx="285.0" cy="341.0" r="6.0" fill="#141414" stroke="none"/>
<path d="M415,160C413,157 404,149 402,142C401,136 404,127 408,122C411,118 420,117 425,118C430,118 435,124 440,128C445,131 452,132 455,138C458,142 457,154 458,158"/>
<ellipse cx="410.0" cy="186.0" rx="18.0" ry="18.0"/>
<circle cx="407.5" cy="187.5" r="4.5" fill="#141414" stroke="none"/>
<ellipse cx="450.0" cy="195.0" rx="20.0" ry="20.0"/>
<circle cx="451.5" cy="197.5" r="5.0" fill="#141414" stroke="none"/>
<path d="M405,200C399,204 380,216 370,225C360,234 352,243 345,255C338,267 333,283 330,295C327,307 326,319 328,325C329,331 337,333 340,332C343,332 346,326 348,320C349,314 347,305 350,295C353,285 358,271 365,260C372,249 385,236 395,228C405,219 420,211 425,208"/>
<path d="M425,218C426,225 428,247 430,265C432,283 433,308 435,325C437,342 439,362 440,370"/>
<path d="M458,225C458,233 461,258 462,275C464,292 466,309 468,325C469,341 472,362 472,370"/>
<path d="M500,105 L508,140" stroke-width="13"/>
<path d="M500,105C503,104 516,97 520,98C524,98 527,106 525,110C523,114 509,118 510,120C511,122 526,118 530,120C534,122 539,129 535,132C531,136 512,139 508,140" stroke-width="13"/>
<path d="M595,82C592,83 581,82 578,85C574,88 572,95 572,100C573,105 575,115 580,118C585,120 597,115 600,115" stroke-width="13"/>
<ellipse cx="617.5" cy="102.5" rx="10.0" ry="10.0" stroke-width="13"/>
<path d="M655,125 L648,85 L670,108 L685,68 L705,102" stroke-width="13"/>
<path d="M735,65 L745,105" stroke-width="13"/>
<path d="M735,65 L758,55" stroke-width="13"/>
<path d="M740,85 L760,78" stroke-width="13"/>
<path d="M745,105 L765,95" stroke-width="13"/>
<path d="M538,165 L545,200" stroke-width="13"/>
<path d="M538,165C541,164 553,159 558,160C562,161 564,169 562,172C561,176 547,179 548,180C548,181 564,178 568,180C571,182 574,189 570,192C566,196 549,199 545,200" stroke-width="13"/>
<path d="M588,165 L592,192" stroke-width="13"/>
<ellipse cx="617.5" cy="172.5" rx="11.5" ry="10.0" stroke-width="13"/>
<path d="M675,155C675,158 671,167 672,170C674,173 680,176 685,175C690,174 697,169 700,165C703,161 702,152 702,150" stroke-width="13"/>
<path d="M702,150C703,153 702,164 705,168C708,171 715,171 720,170C725,169 735,164 738,160C740,156 738,148 735,145C732,142 724,142 720,142C716,143 712,149 710,150" stroke-width="13"/>
<path d="M795,135C792,135 780,131 775,132C770,134 767,141 768,145C768,149 773,154 778,155C782,156 792,151 795,150" stroke-width="13"/>
<path d="M798,132 L800,165" stroke-width="13"/>
<path d="M825,135 L828,155" stroke-width="13"/>
<path d="M845,155 L862,112 L885,158" stroke-width="13"/>
<path d="M850,142 L878,140" stroke-width="13"/>
<path d="M618,240 L628,278" stroke-width="13"/>
<path d="M650,230 L665,275" stroke-width="13"/>
<path d="M622,260 L660,250" stroke-width="13"/>
<path d="M745,225C741,225 728,225 722,228C717,230 712,235 712,240C712,245 717,253 722,255C728,257 741,253 745,252" stroke-width="13"/>
<ellipse cx="775.0" cy="232.5" rx="13.0" ry="11.5" stroke-width="13"/>
<path d="M810,250 L802,215 L828,232 L845,198 L865,228" stroke-width="13"/>
<path d="M885,198 L895,232" stroke-width="13"/>
<path d="M885,198 L902,182" stroke-width="13"/>
<path d="M890,215 L910,202" stroke-width="13"/>
<path d="M895,232 L918,220" stroke-width="13"/>
<path d="M540,235C541,238 548,243 548,250C547,257 543,267 538,275C532,283 517,296 512,300"/>
<circle cx="905.0" cy="145.0" r="6.0" fill="#141414" stroke="none"/>
<circle cx="932.5" cy="144.0" r="6.0" fill="#141414" stroke="none"/>
<circle cx="960.0" cy="144.0" r="6.0" fill="#141414" stroke="none"/>
<path d="M755,295 L765,328" stroke-width="13"/>
<path d="M788,285 L798,318" stroke-width="13"/>
<path d="M760,314 L795,302" stroke-width="13"/>
<path d="M818,320 L832,275 L852,310" stroke-width="13"/>
<path d="M825,305 L848,298" stroke-width="13"/>
<path d="M872,272 L878,302" stroke-width="13"/>
<path d="M872,272C876,271 888,264 892,265C897,266 899,274 898,278C896,281 882,284 882,285C883,286 897,283 900,285C903,287 906,295 902,298C899,300 882,302 878,302" stroke-width="13"/>
<path d="M928,270 L932,292" stroke-width="13"/>
<path d="M940,255 L978,248" stroke-width="13"/>
<path d="M960,252 L968,288" stroke-width="13"/>
<path d="M985,285 L1005,242 L1028,278" stroke-width="13"/>
<path d="M995,272 L1020,265" stroke-width="13"/>
<path d="M1018,238 L1062,228" stroke-width="13"/>
<path d="M1042,232 L1052,270" stroke-width="13"/>
<path d="M1092,218 L1088,250" stroke-width="13"/>
<circle cx="1090.0" cy="270.0" r="6.0" fill="#141414" stroke="none"/>
<path d="M815,365C815,369 815,382 812,390C810,398 807,406 800,412C793,419 777,427 772,430"/>
<path d="M218,398 L222,448"/>
<path d="M262,495C263,492 262,480 265,475C268,470 273,464 278,462C282,461 289,464 292,468C296,471 294,482 298,485C301,488 311,484 315,488C319,491 318,500 322,505C327,510 335,513 340,518C345,522 347,527 352,530C358,533 366,533 372,538C379,542 389,550 390,555C391,560 380,563 380,568C380,572 389,577 388,580C386,583 375,582 372,585C370,588 373,597 370,598C367,598 355,591 352,590"/>
<path d="M262,495C260,496 251,497 248,500C244,503 246,510 242,515C239,520 232,526 225,530C218,534 208,535 200,540C192,545 181,553 180,558C179,562 192,563 192,568C193,572 183,580 185,582C187,585 200,582 202,585C205,588 198,598 200,600C202,602 214,598 218,600C221,602 217,612 220,612C223,613 232,606 235,605"/>
<path d="M265,570C265,567 265,555 268,550C270,545 278,538 282,538C287,537 292,541 292,545C293,549 285,555 285,560C285,565 292,570 292,575C293,580 288,588 288,590"/>
<ellipse cx="261.0" cy="599.0" rx="16.5" ry="15.0"/>
<circle cx="261.0" cy="600.0" r="5.0" fill="#141414" stroke="none"/>
<ellipse cx="316.0" cy="596.0" rx="16.5" ry="15.0"/>
<circle cx="316.0" cy="597.5" r="5.0" fill="#141414" stroke="none"/>
<path d="M268,630 L288,650 L305,630 L288,615Z"/>
<path d="M250,622C250,627 251,641 252,650C254,659 257,673 258,678"/>
<path d="M320,622C320,627 322,642 322,650C323,658 325,667 325,670"/>
<ellipse cx="250.0" cy="684.0" rx="25.0" ry="8.0" transform="rotate(-10 250.0 684.0)"/>
<ellipse cx="340.0" cy="680.0" rx="20.0" ry="8.0" transform="rotate(15 340.0 680.0)"/>
<ellipse cx="392.5" cy="702.5" rx="26.5" ry="9.0" transform="rotate(-5 392.5 702.5)"/>
<path d="M420,355C416,358 402,367 395,375C388,383 381,394 378,405C374,416 372,429 372,440C373,451 376,462 380,470C384,478 392,487 395,490"/>
<path d="M395,490C394,493 389,502 390,508C391,512 396,520 400,520C404,520 409,513 412,510C416,507 419,502 420,500"/>
<path d="M420,500C425,501 440,508 450,508C460,507 471,501 480,495C489,489 501,474 505,470"/>
<path d="M480,350C486,352 505,358 515,365C525,372 534,381 540,390C546,399 551,412 552,420C554,428 553,435 550,440C547,445 538,448 535,450"/>
<path d="M528,440C529,442 535,445 535,450C535,455 533,464 530,468C527,471 522,472 518,472C513,473 507,470 505,470"/>
<path d="M505,470C507,468 511,460 515,455C519,450 525,442 528,440"/>
<path d="M400,458C400,461 400,475 402,478C405,480 412,479 415,472C418,466 419,445 420,440"/>
<path d="M420,440 L425,460"/>
<path d="M430,350 L435,370"/>
<path d="M472,350 L475,370"/>
<path d="M445,418C446,419 450,425 452,425C455,425 461,417 462,415"/>
<path d="M478,412 L495,410"/>
<path d="M452,448C454,449 459,455 462,455C466,455 471,449 472,448"/>
<path d="M430,520C431,529 435,557 438,575C440,593 443,616 445,630C447,644 449,655 450,660"/>
<path d="M485,505C486,514 490,541 492,560C495,579 498,604 500,620C502,636 504,649 505,655"/>
<path d="M410,670C412,668 418,659 425,658C432,656 442,658 450,660C458,662 469,666 472,668"/>
<path d="M410,670 L445,674"/>
<path d="M505,655C508,654 519,649 525,650C531,651 536,659 542,662C549,666 561,669 565,670"/>
<path d="M500,670 L535,670"/>
<path d="M640,432C640,425 636,401 638,390C639,379 644,375 648,368C651,360 652,350 658,345C663,340 673,337 680,338C687,338 693,346 700,348C707,349 716,342 720,345C724,348 727,357 725,362C723,368 712,371 708,378C702,384 698,394 695,400C692,406 691,410 690,412"/>
<ellipse cx="695.0" cy="425.0" rx="19.0" ry="18.0"/>
<circle cx="694.0" cy="424.0" r="5.0" fill="#141414" stroke="none"/>
<ellipse cx="650.0" cy="470.0" rx="21.5" ry="20.0"/>
<circle cx="645.0" cy="472.5" r="5.0" fill="#141414" stroke="none"/>
<path d="M670,442C673,441 686,444 695,448C704,451 716,458 725,462C734,468 747,475 748,478C748,480 738,477 730,475C722,473 709,470 700,468C691,465 680,462 675,458C670,453 667,444 670,442Z"/>
<path d="M638,420C633,419 619,413 610,415C601,417 589,423 582,430C576,437 572,447 570,455C568,463 568,476 568,480"/>
<path d="M568,480C565,482 555,486 550,492C545,499 540,510 538,518C535,525 533,538 535,540C537,542 545,525 548,528C550,530 549,555 552,558C556,560 563,540 568,540C572,540 573,557 578,560C582,563 588,562 592,558C597,553 602,542 605,535C608,528 611,518 612,515"/>
<path d="M612,515C615,517 622,526 630,528C638,529 651,528 660,525C669,522 678,518 685,512C692,507 698,498 702,492C707,487 709,482 710,480"/>
<path d="M715,485C718,487 730,489 735,495C740,501 743,512 742,520C742,528 738,540 732,545C727,550 717,552 710,552C703,552 696,548 692,545C689,542 688,535 688,532"/>
<path d="M708,535 L710,548"/>
<path d="M625,535C626,543 630,568 632,585C635,602 637,631 638,640"/>
<path d="M662,535C664,544 668,572 670,590C672,608 674,636 675,645"/>
<ellipse cx="617.5" cy="655.0" rx="22.5" ry="9.0" transform="rotate(-10 617.5 655.0)"/>
<ellipse cx="692.5" cy="647.5" rx="16.5" ry="11.5" transform="rotate(20 692.5 647.5)"/>
<circle cx="597.5" cy="686.0" r="4.5" fill="#141414" stroke="none"/>
<circle cx="765.0" cy="327.5" r="4.5" fill="#141414" stroke="none"/>
<path d="M818,365C817,369 818,382 815,390C812,398 807,406 800,412C793,419 777,427 772,430"/>
</g></svg>
<!-- 90_interview.svg -->
<svg width="230" height="135" viewBox="0 0 1150 675" style="left:712px;top:582px"><g class="ink" stroke="#141414" stroke-width="11.5">
<path d="M275,192 L300,195"/>
<path d="M38,320C44,319 61,316 75,312C89,309 112,302 120,300"/>
<path d="M35,422C42,420 60,413 75,408C90,402 117,393 125,390"/>
<path d="M120,300C121,306 125,322 128,335C130,348 132,368 132,375"/>
<path d="M140,310C141,316 145,334 148,345C150,356 152,370 152,375"/>
<ellipse cx="90.0" cy="340.0" rx="8.0" ry="6.5"/>
<path d="M90,385 L108,382 L105,398"/>
<path d="M200,292C202,289 208,275 212,270C218,265 225,263 230,265C235,267 243,273 245,280C247,287 245,298 242,305C240,312 235,318 230,320C225,322 215,316 212,315"/>
<circle cx="217.5" cy="285.0" r="3.0" fill="#141414" stroke="none"/>
<circle cx="227.5" cy="291.0" r="3.0" fill="#141414" stroke="none"/>
<circle cx="219.0" cy="300.0" r="3.0" fill="#141414" stroke="none"/>
<ellipse cx="182.5" cy="340.0" rx="16.5" ry="19.0"/>
<ellipse cx="207.5" cy="355.0" rx="19.0" ry="21.5"/>
<path d="M160,330C162,326 165,310 170,305C175,300 182,297 188,298C192,298 198,308 200,310"/>
<path d="M192,340C194,339 199,335 202,335C206,335 212,340 212,342C213,345 206,351 205,352"/>
<path d="M170,375C169,379 168,392 165,400C162,408 159,418 152,425C146,432 134,438 125,445C116,452 105,458 98,465C90,472 89,482 80,490C71,498 51,507 45,510"/>
<path d="M288,345 L275,330 L268,275 L295,292 L310,300"/>
<path d="M310,300C314,298 327,293 335,290C343,287 356,284 360,282"/>
<path d="M360,282C362,278 370,263 375,258C380,252 383,245 388,248C392,250 399,263 402,272C406,282 409,300 410,305"/>
<path d="M410,305C412,313 417,338 420,355C423,372 426,388 428,405C429,422 430,451 430,460"/>
<path d="M288,345C288,352 290,375 292,390C295,405 298,423 300,435C302,447 304,456 305,460"/>
<path d="M295,315 L298,325"/>
<path d="M362,300 L365,312"/>
<path d="M318,330 L348,328 L340,358Z"/>
<path d="M335,452C334,450 327,444 328,440C328,436 334,430 340,428C346,425 356,425 365,425C374,425 390,429 395,430"/>
<path d="M335,452C338,453 349,453 355,455C361,457 370,461 372,465C375,469 374,475 370,478C366,480 359,478 350,478C341,477 323,477 315,475C307,473 302,469 300,468"/>
<path d="M305,460C315,461 344,465 365,465C386,465 419,461 430,460"/>
<path d="M255,475C251,475 235,475 230,478C225,480 222,485 222,490C222,495 226,506 230,510C234,514 242,514 245,515"/>
<path d="M265,452C264,456 260,465 260,475C260,485 262,506 265,515C268,524 271,529 275,530C279,531 285,528 288,522C290,517 290,505 290,495C290,485 288,470 288,465"/>
<path d="M295,445 L265,452"/>
<path d="M395,165C394,168 388,178 388,185C388,192 391,203 395,208C399,212 406,214 410,212C414,211 418,206 420,200C422,194 422,179 422,175"/>
<path d="M300,128 L320,138"/>
<path d="M290,195 L300,195"/>
<path d="M370,152C370,150 370,140 372,135C375,130 383,125 385,122"/>
<path d="M390,108C391,105 393,98 398,95C402,92 412,91 415,90"/>
<path d="M418,80C420,78 429,70 435,68C441,65 452,65 455,65"/>
<path d="M462,55C464,53 466,45 470,45C474,45 482,54 488,58C493,61 502,61 505,65C508,69 507,78 508,80"/>
<path d="M398,165C398,162 399,150 402,145C406,140 413,139 418,135C422,131 428,125 430,120C432,115 429,109 432,105C436,101 447,99 450,98"/>
<path d="M420,190C418,192 413,197 410,200C407,203 404,207 400,208C396,208 390,205 388,202C385,200 383,193 385,190C387,187 396,187 398,182C399,178 395,168 395,165"/>
<path d="M422,188C424,185 426,175 430,170C434,165 440,162 445,158C450,153 456,150 460,145C464,140 466,133 468,128C469,122 467,115 470,110C473,105 480,100 485,98C490,95 498,95 500,95"/>
<path d="M525,92C528,92 535,86 540,88C545,89 554,97 558,102C561,108 557,117 560,122C563,128 572,135 575,138"/>
<path d="M550,72C553,73 564,73 570,78C576,82 581,91 585,98C589,104 591,114 592,118"/>
<path d="M605,130 L608,140"/>
<path d="M575,160C578,158 586,150 590,150C594,150 598,158 598,162C598,167 593,175 590,178C587,180 580,175 578,175"/>
<path d="M476,135 L485,136"/>
<path d="M506,134 L515,135"/>
<path d="M488,168 L505,166"/>
<path d="M468,208C473,207 489,205 500,204C511,203 527,201 532,200"/>
<path d="M435,218C439,221 451,232 460,238C469,243 485,250 490,252"/>
<path d="M510,250C515,248 531,245 540,240C549,235 556,229 562,220C569,211 575,193 578,188"/>
<path d="M475,258C473,258 466,260 462,262C459,265 455,270 455,275C455,280 458,288 462,290C467,292 476,286 480,288C484,289 483,297 488,300C492,303 502,306 505,308"/>
<path d="M525,260C524,264 521,276 520,285C519,294 518,308 518,312"/>
<path d="M535,252C538,255 545,265 550,270C555,275 560,282 562,285"/>
<path d="M562,285 L572,262 L582,280"/>
<path d="M550,295C549,302 545,318 545,335C545,352 547,385 548,395"/>
<path d="M412,292C416,291 428,286 435,285C442,284 452,287 455,288"/>
<path d="M445,310C443,314 438,327 435,335C432,343 431,356 430,360"/>
<path d="M488,330C490,333 502,344 502,350C503,356 494,361 490,365C486,369 482,373 480,375"/>
<path d="M498,375C500,377 510,384 515,388C520,391 528,394 530,395"/>
<path d="M595,285C599,283 611,278 620,275C629,272 645,269 650,268"/>
<path d="M650,268C652,262 658,245 662,238C667,230 670,224 675,225C680,226 688,237 695,245C702,253 712,270 715,275"/>
<circle cx="595.0" cy="305.0" r="5.0" fill="#141414" stroke="none"/>
<circle cx="667.5" cy="287.5" r="5.0" fill="#141414" stroke="none"/>
<path d="M620,322 L652,315 L640,345Z"/>
<path d="M800,68C802,67 808,62 815,62C822,63 834,67 840,72C846,78 851,87 852,95C854,103 853,115 850,122C847,130 840,138 832,142C825,147 813,148 805,148C797,148 786,143 782,142"/>
<path d="M745,95C745,92 740,80 742,75C745,70 752,66 758,65C762,64 770,67 772,70C775,73 770,80 770,82"/>
<path d="M772,70C775,71 785,72 790,75C795,78 798,85 800,88"/>
<ellipse cx="797.5" cy="100.0" rx="11.0" ry="13.5"/>
<path d="M792,100 L800,105"/>
<path d="M748,108C745,110 736,118 732,122C729,128 725,135 728,138C730,140 741,138 748,135C754,132 762,127 768,122C773,118 778,112 780,110"/>
<path d="M860,90C865,90 880,86 890,88C900,89 912,94 920,98C928,101 938,105 940,110C942,115 940,122 935,125C930,128 914,127 910,128"/>
<path d="M855,120C859,120 872,124 880,122C888,121 897,114 900,112"/>
<path d="M860,105 L885,108"/>
<path d="M795,148C795,151 793,162 792,170C792,178 790,193 790,198"/>
<path d="M832,145C833,149 834,162 835,170C836,178 837,191 838,195"/>
<path d="M742,208C750,207 772,203 790,202C808,202 831,203 850,202C869,202 894,200 902,200"/>
<path d="M742,208C743,215 746,236 748,250C749,264 750,283 750,290"/>
<path d="M928,202C930,206 938,213 940,225C942,237 942,257 942,275C943,293 944,315 945,335C946,355 947,385 948,395"/>
<path d="M832,260C830,261 820,261 818,265C815,269 818,278 815,282C812,287 804,287 802,292C801,298 805,309 808,315C810,321 815,328 820,330C825,332 835,326 840,328C845,329 848,338 852,338C858,337 864,330 870,325C876,320 884,316 888,310C891,304 890,295 890,288C890,280 890,270 888,265C885,260 878,255 875,255C872,255 869,263 868,265"/>
<path d="M838,292C838,295 839,303 842,305C846,307 855,305 858,302C860,300 860,292 860,290"/>
<path d="M640,270C642,267 650,257 655,250C660,243 665,231 670,228C675,224 677,225 682,230C688,235 697,245 705,255C713,265 722,278 730,290C738,302 748,316 755,330C762,344 769,364 772,375C776,386 777,392 778,395"/>
<path d="M940,265C941,278 943,315 945,340C947,365 950,390 952,415C955,440 957,468 958,490C958,512 959,538 958,550C956,562 955,562 950,565C945,568 933,567 930,568"/>
<path d="M930,568 L930,550"/>
<path d="M848,555C853,554 869,551 880,550C891,549 907,550 912,550"/>
<path d="M858,506 L859,521" stroke-width="9"/>
<path d="M875,506 L876,521" stroke-width="9"/>
<path d="M900,506 L901,521" stroke-width="9"/>
<path d="M912,506 L914,521" stroke-width="9"/>
<path d="M925,506 L926,521" stroke-width="9"/>
<path d="M950,328C954,327 965,322 975,322C985,323 1006,329 1008,332C1009,336 992,340 985,342C978,345 968,345 965,345"/>
<path d="M915,398C919,395 931,385 940,385C949,385 960,398 970,398C980,398 991,388 1000,385C1009,382 1017,380 1025,382C1033,385 1048,393 1048,398C1048,402 1033,407 1025,410C1017,413 1009,415 1000,415C991,415 978,406 970,408C962,409 957,421 950,425C943,429 933,431 930,432"/>
<path d="M888,425C891,425 903,423 910,424C917,425 927,431 930,432"/>
<path d="M795,388 L820,385 L848,386" stroke-width="14"/>
<path d="M848,386C847,393 844,413 842,425C841,437 838,452 838,458"/>
<path d="M782,412C783,417 784,431 785,440C786,449 787,461 788,465"/>
<path d="M802,458 L840,456"/>
<path d="M790,465C798,465 830,464 840,465C850,466 848,468 848,470C848,472 849,478 840,480C831,482 802,484 795,485"/>
<path d="M748,475C747,480 745,496 745,505C745,514 744,524 748,530C751,536 760,542 765,542C770,543 776,541 780,535C784,529 786,515 788,505C789,495 788,480 788,475"/>
<path d="M812,485C813,492 816,512 818,525C819,538 820,552 822,560C825,568 831,572 832,575"/>
<path d="M640,400C645,400 660,398 670,400C680,402 690,411 700,415C710,419 725,421 730,422"/>
<path d="M678,458 L715,458 L755,455"/>
<path d="M640,500C647,499 666,496 680,495C694,494 718,493 725,492"/>
<path d="M640,575C644,575 655,570 665,572C675,575 696,585 702,588"/>
<path d="M832,335C832,339 829,352 828,360C826,368 823,379 822,382"/>
<path d="M838,362C841,361 853,356 860,356C867,356 878,359 880,360C882,361 876,364 875,365"/>
<path d="M445,470C457,469 494,466 515,465C536,464 549,463 570,462C591,462 628,462 640,462"/>
<path d="M322,505C334,505 366,503 390,502C414,502 440,503 465,502C490,502 528,500 540,500"/>
<path d="M562,498C569,497 587,496 600,496C613,496 633,495 640,495"/>
<path d="M500,518C498,521 490,534 490,540C490,546 500,548 500,555C500,562 492,580 490,585"/>
<path d="M555,530C554,534 548,549 548,555C548,561 555,560 555,565C555,570 547,580 545,582"/>
<path d="M632,535C632,538 626,549 628,555C629,561 638,568 640,570"/>
<path d="M448,315C445,319 438,332 435,340C432,348 433,357 432,360"/>
<path d="M500,378C503,380 514,387 520,390C526,393 532,396 535,398"/>
<path d="M485,398 L510,415 L520,420 L535,408"/>
<path d="M550,305C549,312 545,334 545,350C545,366 547,384 550,400C553,416 561,435 565,445C569,455 573,460 575,462"/>
<path d="M595,418C599,415 612,405 620,402C628,400 637,400 640,400"/>
<path d="M602,432C605,431 614,424 620,422C626,421 637,421 640,421"/>
<path d="M158,550C160,548 169,541 175,540C181,539 188,543 195,545C202,547 212,551 215,552"/>
<path d="M140,580C143,581 153,587 160,588C167,588 179,583 182,582"/>
<path d="M250,535 L251,560 L252,580"/>
<path d="M238,598C240,595 248,587 255,585C262,583 272,582 280,585C288,588 297,597 305,600C313,603 322,605 330,605C338,605 348,600 355,598C362,595 368,593 370,592"/>
<path d="M362,562C365,562 373,557 380,558C387,558 399,564 402,565"/>
</g></svg>
</body></html>
